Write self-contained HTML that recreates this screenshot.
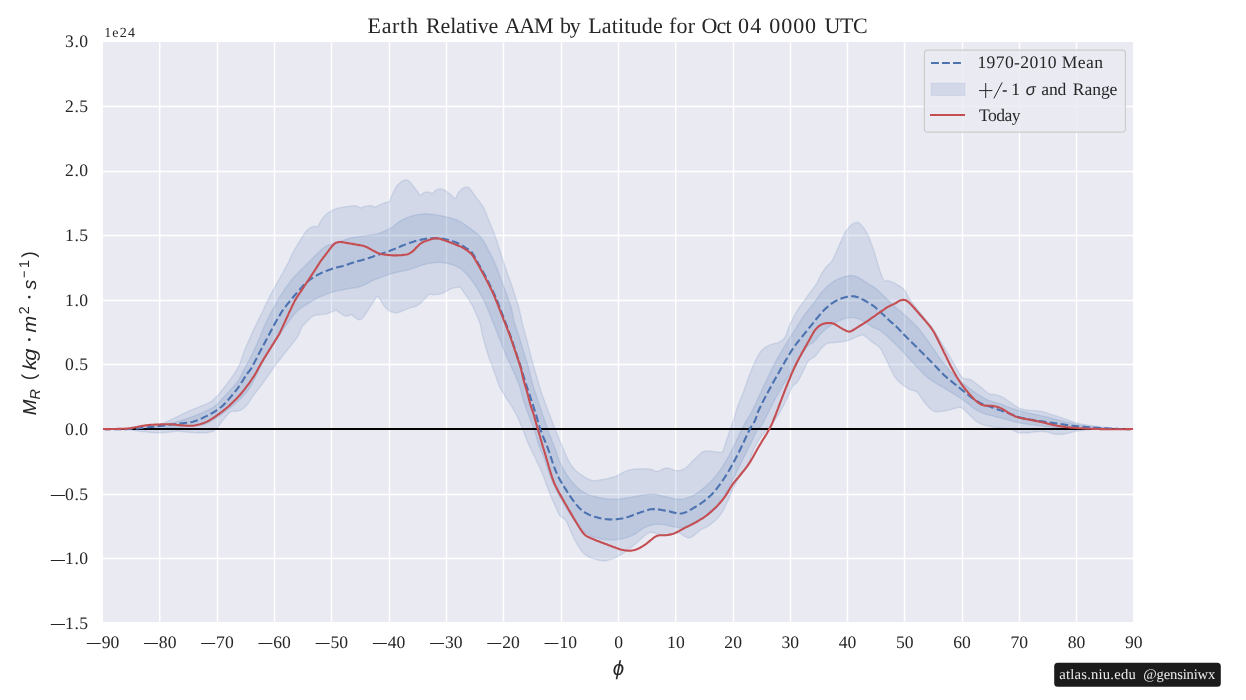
<!DOCTYPE html>
<html><head><meta charset="utf-8"><title>Earth Relative AAM by Latitude</title>
<style>
html,body{margin:0;padding:0;background:#fff;}
body{width:1246px;height:700px;overflow:hidden;}
svg{display:block;will-change:transform;text-rendering:geometricPrecision;}
text{font-family:"Liberation Serif",serif;fill:#262626;}
.t{font-size:17.6px;}
.sans{font-family:"Liberation Sans",sans-serif;font-style:italic;}
</style></head><body>
<svg width="1246" height="700" viewBox="0 0 1246 700">
<rect x="0" y="0" width="1246" height="700" fill="#ffffff"/>
<rect x="103.0" y="42.0" width="1030.0" height="580.0" fill="#eaeaf2"/>
<path d="M159.70,42.0 V622.0 M217.50,42.0 V622.0 M274.50,42.0 V622.0 M331.50,42.0 V622.0 M389.50,42.0 V622.0 M446.50,42.0 V622.0 M503.50,42.0 V622.0 M561.50,42.0 V622.0 M618.50,42.0 V622.0 M675.70,42.0 V622.0 M733.50,42.0 V622.0 M790.50,42.0 V622.0 M847.50,42.0 V622.0 M904.50,42.0 V622.0 M962.50,42.0 V622.0 M1019.50,42.0 V622.0 M1076.50,42.0 V622.0 M103.0,106.50 H1133.0 M103.0,171.50 H1133.0 M103.0,235.50 H1133.0 M103.0,300.50 H1133.0 M103.0,364.50 H1133.0 M103.0,429.00 H1133.0 M103.0,494.50 H1133.0 M103.0,558.50 H1133.0" stroke="#ffffff" stroke-width="1.4" fill="none"/>
<clipPath id="c"><rect x="103" y="42" width="1030" height="580"/></clipPath>
<g clip-path="url(#c)">
<path d="M102.8,429.0 L103.9,429.0 L105.1,429.1 L106.2,429.1 L107.3,429.1 L108.5,429.2 L109.6,429.2 L110.7,429.2 L111.9,429.2 L113.0,429.2 L114.1,429.2 L115.3,429.2 L116.4,429.2 L117.5,429.2 L118.7,429.2 L119.8,429.2 L120.9,429.2 L122.1,429.1 L123.2,429.1 L124.3,429.1 L125.5,429.1 L126.6,429.0 L127.7,429.0 L128.9,429.0 L130.0,428.9 L131.2,428.9 L132.3,428.8 L133.4,428.8 L134.6,428.7 L135.7,428.6 L136.8,428.5 L138.0,428.4 L139.1,428.3 L140.2,428.2 L141.4,428.1 L142.5,428.0 L143.6,427.9 L144.8,427.8 L145.9,427.7 L147.0,427.6 L148.2,427.5 L149.3,427.4 L150.4,427.3 L151.6,427.2 L152.7,427.1 L153.8,427.0 L155.0,426.8 L156.1,426.6 L157.2,426.3 L158.4,425.9 L159.5,425.4 L160.7,424.9 L161.8,424.3 L163.0,423.7 L164.1,423.2 L165.3,422.6 L166.5,422.0 L167.6,421.4 L168.8,420.8 L169.9,420.3 L171.1,419.7 L172.3,419.1 L173.4,418.5 L174.6,418.0 L175.7,417.4 L176.9,416.8 L178.1,416.2 L179.2,415.7 L180.4,415.1 L181.5,414.5 L182.7,413.9 L183.9,413.4 L185.0,412.8 L186.2,412.3 L187.3,411.7 L188.5,411.2 L189.7,410.7 L190.8,410.2 L192.0,409.7 L193.1,409.2 L194.3,408.8 L195.5,408.3 L196.6,407.8 L197.8,407.3 L198.9,406.9 L200.1,406.4 L201.3,406.0 L202.4,405.5 L203.6,405.1 L204.7,404.6 L205.9,404.2 L207.1,403.7 L208.2,403.2 L209.4,402.6 L210.5,401.8 L211.7,401.0 L212.9,400.1 L214.0,399.1 L215.2,398.0 L216.3,396.8 L217.5,395.6 L218.6,394.3 L219.8,392.9 L220.9,391.5 L222.1,390.1 L223.2,388.7 L224.3,387.2 L225.5,385.8 L226.6,384.3 L227.8,382.8 L228.9,381.2 L230.0,379.7 L231.2,378.1 L232.3,376.5 L233.5,374.9 L234.6,373.3 L235.7,371.5 L236.9,369.6 L238.0,367.5 L239.2,365.2 L240.3,362.6 L241.4,359.5 L242.6,356.0 L243.7,352.6 L244.9,349.4 L246.0,346.7 L247.1,344.2 L248.3,341.6 L249.4,339.1 L250.6,336.6 L251.7,334.1 L252.8,331.6 L254.0,329.1 L255.1,326.6 L256.3,324.2 L257.4,321.8 L258.5,319.6 L259.7,317.3 L260.8,315.1 L262.0,312.7 L263.1,310.3 L264.2,307.8 L265.4,305.3 L266.5,302.9 L267.7,300.6 L268.8,298.3 L269.9,296.0 L271.1,293.8 L272.2,291.7 L273.4,289.6 L274.5,287.5 L275.6,285.4 L276.8,283.4 L277.9,281.4 L279.1,279.4 L280.2,277.4 L281.3,275.4 L282.5,273.3 L283.6,271.2 L284.8,269.1 L285.9,266.9 L287.0,264.7 L288.2,262.5 L289.3,260.2 L290.5,257.7 L291.6,255.3 L292.7,252.9 L293.9,250.7 L295.0,248.7 L296.2,246.9 L297.3,245.2 L298.4,243.4 L299.6,241.6 L300.7,239.6 L301.9,237.6 L303.0,235.7 L304.1,233.9 L305.3,232.4 L306.4,231.1 L307.6,230.0 L308.7,229.0 L309.8,228.1 L311.0,227.4 L312.1,226.9 L313.3,226.5 L314.4,226.4 L315.5,226.3 L316.7,227.3 L317.8,226.5 L319.0,224.4 L320.1,222.3 L321.2,220.6 L322.4,218.9 L323.5,217.3 L324.7,215.9 L325.8,214.7 L326.9,213.7 L328.1,212.8 L329.2,212.0 L330.4,211.3 L331.5,210.7 L332.7,210.1 L333.8,209.6 L335.0,209.1 L336.1,208.7 L337.3,208.3 L338.5,208.1 L339.6,207.8 L340.8,207.6 L341.9,207.4 L343.1,207.2 L344.3,207.0 L345.4,206.8 L346.6,206.6 L347.7,206.4 L348.9,206.3 L350.1,206.1 L351.2,205.9 L352.4,205.7 L353.5,205.6 L354.7,205.6 L355.9,205.8 L357.0,206.2 L358.2,206.5 L359.3,207.3 L360.5,207.8 L361.7,207.7 L362.8,207.2 L364.0,206.7 L365.1,206.3 L366.3,206.1 L367.5,205.9 L368.6,205.7 L369.8,205.6 L370.9,205.6 L372.1,206.0 L373.3,206.6 L374.4,206.9 L375.6,206.8 L376.7,206.3 L377.9,205.8 L379.1,205.2 L380.2,204.7 L381.4,204.2 L382.5,203.7 L383.7,203.2 L384.9,202.7 L386.0,202.4 L387.2,202.1 L388.3,202.2 L389.5,201.0 L390.6,198.4 L391.8,195.8 L392.9,193.2 L394.1,190.7 L395.2,188.5 L396.3,186.7 L397.5,185.2 L398.6,184.0 L399.8,182.9 L400.9,182.0 L402.0,181.2 L403.2,180.6 L404.3,180.1 L405.5,179.9 L406.6,179.9 L407.7,180.3 L408.9,180.9 L410.0,182.0 L411.2,183.4 L412.3,184.8 L413.4,186.3 L414.6,187.8 L415.7,189.3 L416.9,190.9 L418.0,192.5 L419.1,194.0 L420.3,195.4 L421.4,195.1 L422.6,193.5 L423.7,192.8 L424.8,192.4 L426.0,192.1 L427.1,192.0 L428.3,192.2 L429.4,192.4 L430.5,192.7 L431.7,193.4 L432.8,193.3 L434.0,192.0 L435.1,190.6 L436.2,189.9 L437.4,189.4 L438.5,189.1 L439.7,189.0 L440.8,189.0 L441.9,189.1 L443.1,189.4 L444.2,189.8 L445.4,190.5 L446.5,191.3 L447.6,192.2 L448.8,193.1 L449.9,194.0 L451.1,195.1 L452.2,196.2 L453.3,197.3 L454.5,198.2 L455.6,198.3 L456.8,195.9 L457.9,193.3 L459.0,191.8 L460.2,190.4 L461.3,189.2 L462.5,188.3 L463.6,187.7 L464.7,187.4 L465.9,187.2 L467.0,187.2 L468.2,187.4 L469.3,188.0 L470.4,189.5 L471.6,191.0 L472.7,192.6 L473.9,194.1 L475.0,195.7 L476.1,197.2 L477.3,198.8 L478.4,200.3 L479.6,201.8 L480.7,203.4 L481.8,204.9 L483.0,206.6 L484.1,208.7 L485.3,211.2 L486.4,214.0 L487.5,216.9 L488.7,219.8 L489.8,222.7 L491.0,225.5 L492.1,228.3 L493.2,231.1 L494.4,234.0 L495.5,237.1 L496.7,240.5 L497.8,244.0 L498.9,247.7 L500.1,251.3 L501.2,254.9 L502.4,258.4 L503.5,261.8 L504.7,265.3 L505.8,268.7 L507.0,272.2 L508.1,275.4 L509.3,278.5 L510.5,281.7 L511.6,285.0 L512.8,288.5 L513.9,292.2 L515.1,295.9 L516.3,299.5 L517.4,303.2 L518.6,307.0 L519.7,310.9 L520.9,316.9 L522.1,322.6 L523.2,326.8 L524.4,330.8 L525.5,334.9 L526.7,339.3 L527.9,344.0 L529.0,348.7 L530.2,353.4 L531.3,357.9 L532.5,362.1 L533.7,366.1 L534.8,370.2 L536.0,374.3 L537.1,378.3 L538.3,382.2 L539.5,386.1 L540.6,389.9 L541.8,393.4 L542.9,396.8 L544.1,400.0 L545.3,403.2 L546.4,406.3 L547.6,409.4 L548.7,412.5 L549.9,415.6 L551.1,418.6 L552.2,421.6 L553.4,424.6 L554.5,427.5 L555.7,430.5 L556.9,433.4 L558.0,436.2 L559.2,439.0 L560.3,441.8 L561.5,444.5 L562.6,447.3 L563.8,450.0 L564.9,452.7 L566.1,455.3 L567.2,457.8 L568.3,460.1 L569.5,462.3 L570.6,464.2 L571.8,466.0 L572.9,467.5 L574.0,468.8 L575.2,470.0 L576.3,471.0 L577.5,472.0 L578.6,472.8 L579.7,473.7 L580.9,474.5 L582.0,475.3 L583.2,476.1 L584.3,476.8 L585.4,477.6 L586.6,478.2 L587.7,478.8 L588.9,479.3 L590.0,479.8 L591.1,480.1 L592.3,480.4 L593.4,480.6 L594.6,480.7 L595.7,480.7 L596.8,480.5 L598.0,480.4 L599.1,480.2 L600.3,480.0 L601.4,479.8 L602.5,479.6 L603.7,479.4 L604.8,479.2 L606.0,478.9 L607.1,478.7 L608.2,478.4 L609.4,478.1 L610.5,477.8 L611.7,477.5 L612.8,477.2 L613.9,476.9 L615.1,476.5 L616.2,476.1 L617.4,475.5 L618.5,474.9 L619.6,474.3 L620.8,473.6 L621.9,472.9 L623.1,472.3 L624.2,471.8 L625.3,471.4 L626.5,470.9 L627.6,470.6 L628.8,470.2 L629.9,469.9 L631.0,469.6 L632.2,469.4 L633.3,469.2 L634.5,469.1 L635.6,469.0 L636.7,468.9 L637.9,468.9 L639.0,468.9 L640.2,468.8 L641.3,468.8 L642.4,468.8 L643.6,468.8 L644.7,468.8 L645.9,468.8 L647.0,468.9 L648.1,468.9 L649.3,469.0 L650.4,469.1 L651.6,469.4 L652.7,469.9 L653.8,470.5 L655.0,471.0 L656.1,471.3 L657.3,471.3 L658.4,471.1 L659.5,470.7 L660.7,470.1 L661.8,469.6 L663.0,469.0 L664.1,468.5 L665.2,468.2 L666.4,468.0 L667.5,468.1 L668.7,468.3 L669.8,468.6 L670.9,468.9 L672.1,469.3 L673.2,469.7 L674.4,470.1 L675.5,470.4 L676.7,470.6 L677.8,470.7 L679.0,470.6 L680.1,470.4 L681.3,470.1 L682.5,469.7 L683.6,469.2 L684.8,468.5 L685.9,467.7 L687.1,466.8 L688.3,465.7 L689.4,464.5 L690.6,463.2 L691.7,462.0 L692.9,460.7 L694.1,459.6 L695.2,458.5 L696.4,457.4 L697.5,456.3 L698.7,455.2 L699.9,454.1 L701.0,453.1 L702.2,452.3 L703.3,451.6 L704.5,451.1 L705.7,450.9 L706.8,450.9 L708.0,451.0 L709.1,451.1 L710.3,451.2 L711.5,451.4 L712.6,451.5 L713.8,451.6 L714.9,451.7 L716.1,451.9 L717.3,452.0 L718.4,452.1 L719.6,452.3 L720.7,452.4 L721.9,452.4 L723.1,450.8 L724.2,447.5 L725.4,443.8 L726.5,440.3 L727.7,436.9 L728.9,433.4 L730.0,429.9 L731.2,426.6 L732.3,423.5 L733.5,420.3 L734.6,416.8 L735.8,412.4 L736.9,408.5 L738.1,405.4 L739.2,402.5 L740.3,399.6 L741.5,396.8 L742.6,394.0 L743.8,390.9 L744.9,387.8 L746.0,384.5 L747.2,381.3 L748.3,378.0 L749.5,374.8 L750.6,371.8 L751.7,368.9 L752.9,366.2 L754.0,363.7 L755.2,361.3 L756.3,359.0 L757.4,356.8 L758.6,354.7 L759.7,352.9 L760.9,351.3 L762.0,349.9 L763.1,348.9 L764.3,348.0 L765.4,347.3 L766.6,346.6 L767.7,346.0 L768.8,345.4 L770.0,344.9 L771.1,344.4 L772.3,344.1 L773.4,343.7 L774.5,343.4 L775.7,343.2 L776.8,342.9 L778.0,342.5 L779.1,342.1 L780.2,341.6 L781.4,340.9 L782.5,340.1 L783.7,339.0 L784.8,337.5 L785.9,335.6 L787.1,332.5 L788.2,328.8 L789.4,325.5 L790.5,323.1 L791.6,320.9 L792.8,318.7 L793.9,316.5 L795.1,314.4 L796.2,312.4 L797.3,310.5 L798.5,308.7 L799.6,307.0 L800.8,305.4 L801.9,303.8 L803.0,302.3 L804.2,300.7 L805.3,299.1 L806.5,297.5 L807.6,295.9 L808.7,294.3 L809.9,292.7 L811.0,291.2 L812.2,289.7 L813.3,288.1 L814.4,286.6 L815.6,285.0 L816.7,283.4 L817.9,281.3 L819.0,278.9 L820.1,276.4 L821.3,274.2 L822.4,272.3 L823.6,270.6 L824.7,269.0 L825.8,267.5 L827.0,266.2 L828.1,265.1 L829.3,264.1 L830.4,262.9 L831.5,261.5 L832.7,259.8 L833.8,257.6 L835.0,255.0 L836.1,252.4 L837.2,249.8 L838.4,247.2 L839.5,244.6 L840.7,242.0 L841.8,239.5 L842.9,237.0 L844.1,234.6 L845.2,232.4 L846.4,230.6 L847.5,229.1 L848.6,227.7 L849.8,226.4 L850.9,225.3 L852.1,224.3 L853.2,223.5 L854.3,222.9 L855.5,222.6 L856.6,222.4 L857.8,222.5 L858.9,222.9 L860.0,223.6 L861.2,224.7 L862.3,226.2 L863.5,227.7 L864.6,229.4 L865.7,231.2 L866.9,233.1 L868.0,235.3 L869.2,237.9 L870.3,240.7 L871.4,243.9 L872.6,247.1 L873.7,250.5 L874.9,254.0 L876.0,257.6 L877.1,261.5 L878.3,265.5 L879.4,269.3 L880.6,272.7 L881.7,275.7 L882.8,278.4 L884.0,280.5 L885.1,281.3 L886.3,281.0 L887.4,280.5 L888.5,280.7 L889.7,281.1 L890.8,281.5 L892.0,281.9 L893.1,282.4 L894.2,282.9 L895.4,283.6 L896.5,284.2 L897.7,284.9 L898.8,285.6 L899.9,286.3 L901.1,287.1 L902.2,287.9 L903.4,288.9 L904.5,290.1 L905.7,291.6 L906.8,294.0 L908.0,296.1 L909.1,298.1 L910.3,299.9 L911.5,301.7 L912.6,303.2 L913.8,304.7 L914.9,306.1 L916.1,307.6 L917.3,309.0 L918.4,310.4 L919.6,311.8 L920.7,313.2 L921.9,314.6 L923.1,316.1 L924.2,317.6 L925.4,319.0 L926.5,320.4 L927.7,321.9 L928.9,323.3 L930.0,324.8 L931.2,326.3 L932.3,327.8 L933.5,329.4 L934.7,331.2 L935.8,333.0 L937.0,334.9 L938.1,336.8 L939.3,338.8 L940.5,340.9 L941.6,342.9 L942.8,344.9 L943.9,346.8 L945.1,348.8 L946.3,350.7 L947.4,352.7 L948.6,354.6 L949.7,356.5 L950.9,358.4 L952.1,360.4 L953.2,362.3 L954.4,364.3 L955.5,366.4 L956.7,368.5 L957.9,370.6 L959.0,372.6 L960.2,374.6 L961.3,376.3 L962.5,377.5 L963.6,378.3 L964.8,378.7 L965.9,378.9 L967.1,379.0 L968.2,379.1 L969.3,379.2 L970.5,379.6 L971.6,380.2 L972.8,381.1 L973.9,381.9 L975.0,382.8 L976.2,383.6 L977.3,384.5 L978.5,385.4 L979.6,386.2 L980.7,387.1 L981.9,388.1 L983.0,389.0 L984.2,390.0 L985.3,391.0 L986.4,391.9 L987.6,392.7 L988.7,393.5 L989.9,394.0 L991.0,394.2 L992.1,394.3 L993.3,394.3 L994.4,394.4 L995.6,394.6 L996.7,394.9 L997.8,395.3 L999.0,395.7 L1000.1,396.1 L1001.3,396.6 L1002.4,397.1 L1003.5,397.7 L1004.7,398.4 L1005.8,399.2 L1007.0,399.9 L1008.1,400.8 L1009.2,401.6 L1010.4,402.4 L1011.5,403.2 L1012.7,404.0 L1013.8,404.7 L1014.9,405.5 L1016.1,406.2 L1017.2,406.9 L1018.4,407.5 L1019.5,408.1 L1020.6,408.6 L1021.8,408.9 L1022.9,409.2 L1024.1,409.5 L1025.2,409.7 L1026.3,409.9 L1027.5,410.0 L1028.6,410.1 L1029.8,410.3 L1030.9,410.4 L1032.0,410.5 L1033.2,410.5 L1034.3,410.6 L1035.5,410.6 L1036.6,410.7 L1037.7,410.7 L1038.9,410.9 L1040.0,411.1 L1041.2,411.3 L1042.3,411.6 L1043.4,412.0 L1044.6,412.3 L1045.7,412.7 L1046.9,413.0 L1048.0,413.4 L1049.1,413.7 L1050.3,414.1 L1051.4,414.4 L1052.6,414.8 L1053.7,415.2 L1054.8,415.5 L1056.0,415.9 L1057.1,416.3 L1058.3,416.6 L1059.4,417.0 L1060.5,417.4 L1061.7,417.7 L1062.8,418.1 L1064.0,418.5 L1065.1,418.9 L1066.2,419.2 L1067.4,419.7 L1068.5,420.1 L1069.7,420.5 L1070.8,421.0 L1071.9,421.4 L1073.1,421.8 L1074.2,422.2 L1075.4,422.6 L1076.5,422.9 L1077.6,423.2 L1078.8,423.5 L1079.9,423.8 L1081.1,424.0 L1082.2,424.2 L1083.4,424.4 L1084.5,424.6 L1085.6,424.7 L1086.8,424.9 L1087.9,425.1 L1089.1,425.3 L1090.2,425.4 L1091.3,425.6 L1092.5,425.8 L1093.6,426.0 L1094.8,426.1 L1095.9,426.3 L1097.1,426.5 L1098.2,426.6 L1099.3,426.8 L1100.5,426.9 L1101.6,427.1 L1102.8,427.2 L1103.9,427.4 L1105.0,427.5 L1106.2,427.6 L1107.3,427.8 L1108.5,427.9 L1109.6,428.0 L1110.8,428.1 L1111.9,428.2 L1113.0,428.3 L1114.2,428.3 L1115.3,428.4 L1116.5,428.5 L1117.6,428.5 L1118.8,428.6 L1119.9,428.7 L1121.0,428.7 L1122.2,428.8 L1123.3,428.8 L1124.5,428.8 L1125.6,428.9 L1126.7,428.9 L1127.9,428.9 L1129.0,429.0 L1130.2,429.0 L1131.3,429.0 L1132.5,429.0 L1133.6,429.0 L1133.6,429.0 L1132.5,429.0 L1131.3,428.9 L1130.2,428.9 L1129.0,428.9 L1127.9,428.9 L1126.7,428.8 L1125.6,428.8 L1124.5,428.8 L1123.3,428.8 L1122.2,428.8 L1121.0,428.8 L1119.9,428.8 L1118.8,428.8 L1117.6,428.8 L1116.5,428.8 L1115.3,428.8 L1114.2,428.8 L1113.0,428.8 L1111.9,428.8 L1110.8,428.8 L1109.6,428.8 L1108.5,428.8 L1107.3,428.9 L1106.2,428.9 L1105.0,428.9 L1103.9,428.9 L1102.8,428.9 L1101.6,429.0 L1100.5,429.0 L1099.3,429.0 L1098.2,429.1 L1097.1,429.1 L1095.9,429.2 L1094.8,429.3 L1093.6,429.3 L1092.5,429.4 L1091.3,429.5 L1090.2,429.6 L1089.1,429.7 L1087.9,429.8 L1086.8,429.9 L1085.6,430.0 L1084.5,430.2 L1083.4,430.3 L1082.2,430.5 L1081.1,430.6 L1079.9,430.8 L1078.8,430.9 L1077.6,431.1 L1076.5,431.3 L1075.4,431.5 L1074.2,431.7 L1073.1,432.0 L1071.9,432.2 L1070.8,432.5 L1069.7,432.8 L1068.5,433.1 L1067.4,433.4 L1066.2,433.6 L1065.1,433.8 L1064.0,434.0 L1062.8,434.2 L1061.7,434.3 L1060.5,434.3 L1059.4,434.4 L1058.3,434.4 L1057.1,434.3 L1056.0,434.3 L1054.8,434.2 L1053.7,434.0 L1052.6,433.6 L1051.4,433.3 L1050.3,432.9 L1049.1,432.5 L1048.0,432.2 L1046.9,431.9 L1045.7,431.8 L1044.6,431.7 L1043.4,431.6 L1042.3,431.6 L1041.2,431.6 L1040.0,431.6 L1038.9,431.6 L1037.7,431.7 L1036.6,431.7 L1035.5,431.8 L1034.3,432.0 L1033.2,432.1 L1032.0,432.3 L1030.9,432.4 L1029.8,432.6 L1028.6,432.7 L1027.5,432.9 L1026.3,433.0 L1025.2,433.1 L1024.1,433.1 L1022.9,433.1 L1021.8,433.1 L1020.6,433.0 L1019.5,432.9 L1018.4,432.7 L1017.2,432.3 L1016.1,431.8 L1014.9,431.3 L1013.8,430.7 L1012.7,430.2 L1011.5,429.7 L1010.4,429.3 L1009.2,429.0 L1008.1,428.8 L1007.0,428.7 L1005.8,428.5 L1004.7,428.4 L1003.5,428.3 L1002.4,428.1 L1001.3,428.0 L1000.1,427.9 L999.0,427.8 L997.8,427.6 L996.7,427.5 L995.6,427.3 L994.4,427.1 L993.3,426.9 L992.1,426.7 L991.0,426.5 L989.9,426.3 L988.7,426.1 L987.6,425.9 L986.4,425.7 L985.3,425.4 L984.2,425.2 L983.0,424.8 L981.9,424.4 L980.7,424.0 L979.6,423.4 L978.5,422.7 L977.3,422.0 L976.2,421.2 L975.0,420.2 L973.9,419.2 L972.8,418.1 L971.6,417.0 L970.5,415.9 L969.3,414.7 L968.2,413.6 L967.1,412.5 L965.9,411.4 L964.8,410.3 L963.6,409.3 L962.5,408.4 L961.3,407.7 L960.2,407.4 L959.0,407.4 L957.9,407.6 L956.7,407.9 L955.5,408.2 L954.4,408.5 L953.2,408.8 L952.1,409.2 L950.9,409.5 L949.7,409.8 L948.6,410.2 L947.4,410.4 L946.3,410.7 L945.1,410.9 L943.9,411.1 L942.8,411.3 L941.6,411.4 L940.5,411.5 L939.3,411.6 L938.1,411.7 L937.0,411.7 L935.8,411.7 L934.7,411.4 L933.5,411.0 L932.3,410.3 L931.2,409.5 L930.0,408.5 L928.9,407.3 L927.7,406.1 L926.5,404.8 L925.4,403.4 L924.2,402.0 L923.1,400.5 L921.9,398.8 L920.7,397.0 L919.6,395.2 L918.4,393.6 L917.3,392.4 L916.1,391.5 L914.9,390.9 L913.8,390.6 L912.6,390.3 L911.5,390.0 L910.3,389.7 L909.1,389.1 L908.0,388.4 L906.8,387.7 L905.7,387.0 L904.5,386.2 L903.4,385.3 L902.2,384.5 L901.1,383.5 L899.9,382.5 L898.8,381.5 L897.7,380.3 L896.5,379.0 L895.4,377.5 L894.2,375.8 L893.1,373.9 L892.0,371.7 L890.8,369.3 L889.7,366.9 L888.5,364.5 L887.4,362.1 L886.3,359.8 L885.1,357.5 L884.0,355.1 L882.8,352.9 L881.7,350.7 L880.6,348.9 L879.4,347.3 L878.3,346.2 L877.1,345.3 L876.0,344.5 L874.9,343.9 L873.7,343.2 L872.6,342.4 L871.4,341.5 L870.3,340.5 L869.2,339.5 L868.0,338.6 L866.9,337.6 L865.7,336.7 L864.6,335.8 L863.5,335.3 L862.3,335.1 L861.2,335.2 L860.0,335.5 L858.9,335.9 L857.8,336.4 L856.6,336.8 L855.5,337.3 L854.3,337.9 L853.2,338.4 L852.1,339.0 L850.9,339.5 L849.8,340.0 L848.6,340.4 L847.5,340.7 L846.4,340.9 L845.2,341.2 L844.1,341.3 L842.9,341.5 L841.8,341.7 L840.7,341.8 L839.5,342.0 L838.4,342.2 L837.2,342.3 L836.1,342.4 L835.0,342.5 L833.8,342.6 L832.7,342.7 L831.5,342.7 L830.4,342.8 L829.3,343.0 L828.1,343.2 L827.0,343.6 L825.8,344.3 L824.7,345.2 L823.6,346.2 L822.4,347.3 L821.3,348.5 L820.1,349.8 L819.0,351.4 L817.9,352.9 L816.7,354.4 L815.6,355.8 L814.4,356.9 L813.3,357.6 L812.2,358.2 L811.0,358.8 L809.9,359.5 L808.7,360.5 L807.6,362.1 L806.5,364.2 L805.3,366.7 L804.2,369.3 L803.0,371.7 L801.9,373.9 L800.8,376.1 L799.6,378.2 L798.5,380.2 L797.3,382.1 L796.2,383.5 L795.1,384.2 L793.9,384.8 L792.8,386.0 L791.6,388.1 L790.5,390.6 L789.4,393.2 L788.2,395.7 L787.1,398.1 L785.9,400.5 L784.8,402.8 L783.7,405.2 L782.5,407.4 L781.4,409.5 L780.2,411.6 L779.1,413.5 L778.0,415.4 L776.8,417.1 L775.7,418.8 L774.5,420.5 L773.4,422.0 L772.3,423.6 L771.1,425.0 L770.0,426.4 L768.8,427.8 L767.7,429.0 L766.6,430.2 L765.4,431.4 L764.3,432.7 L763.1,434.0 L762.0,435.3 L760.9,436.9 L759.7,438.6 L758.6,440.4 L757.4,442.3 L756.3,444.4 L755.2,446.5 L754.0,448.8 L752.9,451.7 L751.7,454.9 L750.6,458.3 L749.5,461.3 L748.3,463.7 L747.2,465.6 L746.0,467.2 L744.9,468.7 L743.8,470.2 L742.6,471.7 L741.5,473.5 L740.3,475.5 L739.2,477.5 L738.1,479.5 L736.9,481.5 L735.8,483.6 L734.6,485.8 L733.5,488.1 L732.3,490.5 L731.2,493.1 L730.0,495.8 L728.9,498.6 L727.7,501.2 L726.5,503.8 L725.4,506.2 L724.2,508.5 L723.1,510.6 L721.9,512.6 L720.7,514.4 L719.6,515.9 L718.4,517.3 L717.3,518.5 L716.1,519.7 L714.9,520.8 L713.8,521.8 L712.6,522.8 L711.5,523.7 L710.3,524.6 L709.1,525.4 L708.0,526.1 L706.8,526.8 L705.7,527.4 L704.5,528.0 L703.3,528.5 L702.2,529.1 L701.0,529.7 L699.9,530.5 L698.7,531.4 L697.5,532.4 L696.4,533.5 L695.2,534.5 L694.1,535.4 L692.9,536.2 L691.7,536.9 L690.6,537.4 L689.4,537.7 L688.3,537.7 L687.1,537.4 L685.9,536.9 L684.8,536.4 L683.6,535.8 L682.5,535.0 L681.3,534.1 L680.1,533.3 L679.0,532.6 L677.8,532.1 L676.7,532.1 L675.5,532.4 L674.4,533.0 L673.2,533.6 L672.1,534.3 L670.9,534.7 L669.8,534.9 L668.7,535.0 L667.5,534.9 L666.4,534.9 L665.2,534.9 L664.1,534.8 L663.0,534.7 L661.8,534.7 L660.7,534.6 L659.5,534.4 L658.4,534.2 L657.3,533.9 L656.1,533.5 L655.0,533.1 L653.8,532.8 L652.7,532.5 L651.6,532.4 L650.4,532.4 L649.3,532.6 L648.1,533.1 L647.0,533.8 L645.9,534.7 L644.7,535.6 L643.6,536.6 L642.4,537.6 L641.3,538.7 L640.2,539.7 L639.0,540.8 L637.9,541.8 L636.7,542.8 L635.6,543.7 L634.5,544.7 L633.3,545.6 L632.2,546.5 L631.0,547.4 L629.9,548.3 L628.8,549.2 L627.6,550.1 L626.5,550.9 L625.3,551.7 L624.2,552.5 L623.1,553.3 L621.9,554.0 L620.8,554.7 L619.6,555.4 L618.5,556.1 L617.4,556.7 L616.2,557.3 L615.1,557.9 L613.9,558.4 L612.8,558.8 L611.7,559.2 L610.5,559.6 L609.4,559.9 L608.2,560.1 L607.1,560.4 L606.0,560.6 L604.8,560.7 L603.7,560.7 L602.5,560.7 L601.4,560.6 L600.3,560.4 L599.1,560.2 L598.0,559.9 L596.8,559.7 L595.7,559.3 L594.6,559.0 L593.4,558.7 L592.3,558.3 L591.1,557.9 L590.0,557.5 L588.9,556.9 L587.7,556.3 L586.6,555.6 L585.4,554.8 L584.3,553.9 L583.2,552.9 L582.0,551.6 L580.9,550.2 L579.7,548.5 L578.6,546.7 L577.5,544.8 L576.3,542.7 L575.2,540.6 L574.0,538.5 L572.9,536.3 L571.8,533.7 L570.6,531.0 L569.5,528.3 L568.3,525.6 L567.2,523.1 L566.1,520.9 L564.9,519.3 L563.8,518.4 L562.6,517.8 L561.5,517.2 L560.3,516.2 L559.2,514.5 L558.0,512.2 L556.9,509.8 L555.7,507.3 L554.5,504.7 L553.4,502.1 L552.2,499.4 L551.1,496.6 L549.9,493.7 L548.7,490.7 L547.6,487.6 L546.4,484.4 L545.3,481.2 L544.1,478.1 L542.9,475.1 L541.8,472.4 L540.6,469.7 L539.5,467.2 L538.3,464.7 L537.1,462.2 L536.0,459.7 L534.8,457.3 L533.7,454.9 L532.5,452.6 L531.3,450.2 L530.2,447.8 L529.0,445.4 L527.9,442.7 L526.7,439.7 L525.5,436.6 L524.4,433.4 L523.2,430.4 L522.1,427.6 L520.9,424.9 L519.7,422.1 L518.6,419.4 L517.4,416.9 L516.3,414.5 L515.1,412.3 L513.9,410.3 L512.8,408.4 L511.6,406.5 L510.5,404.6 L509.3,402.8 L508.1,400.9 L507.0,399.1 L505.8,397.3 L504.7,395.4 L503.5,393.5 L502.4,391.7 L501.2,389.9 L500.1,387.9 L498.9,385.3 L497.8,382.3 L496.7,379.0 L495.5,375.6 L494.4,372.3 L493.2,369.0 L492.1,365.8 L491.0,362.7 L489.8,360.0 L488.7,356.9 L487.5,353.3 L486.4,349.5 L485.3,345.5 L484.1,341.3 L483.0,337.1 L481.8,332.0 L480.7,326.8 L479.6,322.2 L478.4,319.0 L477.3,316.8 L476.1,314.1 L475.0,311.4 L473.9,308.8 L472.7,306.4 L471.6,304.3 L470.4,302.3 L469.3,300.4 L468.2,298.7 L467.0,296.9 L465.9,295.3 L464.7,293.6 L463.6,291.9 L462.5,290.2 L461.3,288.6 L460.2,287.4 L459.0,287.0 L457.9,287.2 L456.8,287.5 L455.6,287.7 L454.5,287.9 L453.3,288.1 L452.2,288.3 L451.1,288.8 L449.9,289.4 L448.8,290.0 L447.6,290.7 L446.5,291.3 L445.4,291.8 L444.2,292.4 L443.1,292.9 L441.9,293.4 L440.8,293.7 L439.7,294.0 L438.5,294.2 L437.4,294.4 L436.2,294.5 L435.1,294.5 L434.0,294.7 L432.8,294.6 L431.7,294.4 L430.5,294.2 L429.4,294.4 L428.3,295.1 L427.1,296.2 L426.0,297.6 L424.8,298.9 L423.7,300.1 L422.6,301.2 L421.4,302.3 L420.3,303.4 L419.1,304.3 L418.0,305.1 L416.9,305.8 L415.7,306.3 L414.6,306.6 L413.4,307.0 L412.3,307.3 L411.2,307.6 L410.0,307.9 L408.9,308.3 L407.7,308.7 L406.6,309.1 L405.5,309.6 L404.3,310.1 L403.2,310.7 L402.0,311.2 L400.9,311.7 L399.8,312.1 L398.6,312.4 L397.5,312.5 L396.3,312.7 L395.2,312.7 L394.1,312.6 L392.9,312.3 L391.8,312.0 L390.6,311.6 L389.5,311.0 L388.3,310.3 L387.2,309.3 L386.0,308.2 L384.9,306.9 L383.7,305.3 L382.5,303.6 L381.4,301.7 L380.2,299.7 L379.1,297.8 L377.9,296.3 L376.7,296.5 L375.6,298.3 L374.4,300.2 L373.3,302.1 L372.1,303.9 L370.9,305.8 L369.8,307.6 L368.6,309.4 L367.5,311.2 L366.3,313.0 L365.1,314.7 L364.0,316.3 L362.8,317.9 L361.7,319.1 L360.5,319.6 L359.3,319.7 L358.2,319.4 L357.0,318.9 L355.9,318.3 L354.7,317.5 L353.5,316.3 L352.4,315.2 L351.2,314.7 L350.1,315.0 L348.9,315.7 L347.7,316.1 L346.6,316.1 L345.4,316.0 L344.3,315.7 L343.1,315.0 L341.9,314.3 L340.8,313.5 L339.6,312.7 L338.5,311.8 L337.3,311.0 L336.1,310.2 L335.0,310.6 L333.8,311.2 L332.7,311.7 L331.5,312.1 L330.4,312.6 L329.2,313.0 L328.1,313.4 L326.9,313.7 L325.8,314.0 L324.7,314.2 L323.5,314.3 L322.4,314.4 L321.2,314.5 L320.1,314.6 L319.0,314.7 L317.8,314.9 L316.7,315.1 L315.5,315.3 L314.4,315.7 L313.3,316.1 L312.1,316.7 L311.0,317.5 L309.8,318.6 L308.7,319.7 L307.6,320.9 L306.4,322.1 L305.3,323.2 L304.1,324.4 L303.0,325.5 L301.9,327.0 L300.7,330.0 L299.6,332.9 L298.4,335.2 L297.3,337.3 L296.2,338.9 L295.0,340.3 L293.9,341.8 L292.7,343.3 L291.6,344.7 L290.5,346.1 L289.3,347.5 L288.2,349.0 L287.0,350.4 L285.9,351.9 L284.8,353.3 L283.6,354.8 L282.5,356.2 L281.3,357.6 L280.2,359.0 L279.1,360.4 L277.9,361.8 L276.8,363.3 L275.6,364.9 L274.5,366.5 L273.4,368.2 L272.2,369.8 L271.1,371.4 L269.9,373.1 L268.8,374.7 L267.7,376.3 L266.5,377.9 L265.4,379.5 L264.2,381.1 L263.1,382.7 L262.0,384.3 L260.8,385.8 L259.7,387.3 L258.5,388.8 L257.4,390.2 L256.3,391.7 L255.1,393.2 L254.0,394.7 L252.8,396.4 L251.7,398.1 L250.6,399.8 L249.4,401.6 L248.3,403.2 L247.1,404.7 L246.0,406.0 L244.9,407.1 L243.7,408.1 L242.6,409.0 L241.4,409.7 L240.3,410.3 L239.2,410.7 L238.0,411.0 L236.9,411.3 L235.7,411.3 L234.6,411.3 L233.5,411.2 L232.3,411.3 L231.2,411.7 L230.0,412.4 L228.9,413.3 L227.8,414.5 L226.6,415.8 L225.5,417.2 L224.3,418.5 L223.2,419.9 L222.1,421.3 L220.9,422.8 L219.8,424.4 L218.6,425.9 L217.5,427.4 L216.3,428.7 L215.2,429.7 L214.0,430.6 L212.9,431.3 L211.7,431.8 L210.5,432.1 L209.4,432.3 L208.2,432.5 L207.1,432.7 L205.9,432.8 L204.7,432.9 L203.6,432.9 L202.4,432.9 L201.3,432.9 L200.1,432.9 L198.9,432.8 L197.8,432.8 L196.6,432.7 L195.5,432.7 L194.3,432.6 L193.1,432.6 L192.0,432.5 L190.8,432.5 L189.7,432.4 L188.5,432.3 L187.3,432.2 L186.2,432.1 L185.0,432.0 L183.9,431.8 L182.7,431.6 L181.5,431.5 L180.4,431.4 L179.2,431.3 L178.1,431.2 L176.9,431.2 L175.7,431.3 L174.6,431.5 L173.4,431.6 L172.3,431.8 L171.1,432.0 L169.9,432.1 L168.8,432.2 L167.6,432.3 L166.5,432.4 L165.3,432.5 L164.1,432.5 L163.0,432.6 L161.8,432.7 L160.7,432.7 L159.5,432.7 L158.4,432.8 L157.2,432.8 L156.1,432.8 L155.0,432.7 L153.8,432.7 L152.7,432.6 L151.6,432.5 L150.4,432.4 L149.3,432.3 L148.2,432.2 L147.0,432.1 L145.9,431.9 L144.8,431.8 L143.6,431.7 L142.5,431.6 L141.4,431.4 L140.2,431.3 L139.1,431.2 L138.0,431.0 L136.8,430.9 L135.7,430.7 L134.6,430.6 L133.4,430.4 L132.3,430.3 L131.2,430.1 L130.0,429.9 L128.9,429.8 L127.7,429.7 L126.6,429.5 L125.5,429.4 L124.3,429.3 L123.2,429.2 L122.1,429.1 L120.9,429.0 L119.8,428.9 L118.7,428.9 L117.5,428.9 L116.4,428.8 L115.3,428.8 L114.1,428.8 L113.0,428.8 L111.9,428.8 L110.7,428.8 L109.6,428.8 L108.5,428.8 L107.3,428.9 L106.2,428.9 L105.1,428.9 L103.9,429.0 L102.8,429.0Z" fill="#4c72b0" fill-opacity="0.15" stroke="#4c72b0" stroke-opacity="0.15" stroke-width="1.4" stroke-linejoin="round"/>
<path d="M102.8,429.0 L103.9,429.0 L105.1,429.1 L106.2,429.1 L107.3,429.2 L108.5,429.2 L109.6,429.2 L110.7,429.2 L111.9,429.3 L113.0,429.3 L114.1,429.3 L115.3,429.3 L116.4,429.3 L117.5,429.3 L118.7,429.3 L119.8,429.3 L120.9,429.3 L122.1,429.2 L123.2,429.2 L124.3,429.2 L125.5,429.2 L126.6,429.1 L127.7,429.1 L128.9,429.1 L130.0,429.0 L131.2,429.0 L132.3,428.9 L133.4,428.9 L134.6,428.8 L135.7,428.8 L136.8,428.7 L138.0,428.7 L139.1,428.6 L140.2,428.6 L141.4,428.5 L142.5,428.4 L143.6,428.3 L144.8,428.3 L145.9,428.2 L147.0,428.1 L148.2,428.0 L149.3,427.8 L150.4,427.7 L151.6,427.6 L152.7,427.4 L153.8,427.3 L155.0,427.1 L156.1,426.9 L157.2,426.7 L158.4,426.4 L159.5,426.2 L160.7,425.9 L161.8,425.7 L163.0,425.4 L164.1,425.1 L165.3,424.8 L166.5,424.5 L167.6,424.2 L168.8,423.9 L169.9,423.5 L171.1,423.2 L172.3,422.9 L173.4,422.6 L174.6,422.2 L175.7,421.9 L176.9,421.5 L178.1,421.2 L179.2,420.9 L180.4,420.5 L181.5,420.2 L182.7,419.8 L183.9,419.4 L185.0,419.1 L186.2,418.7 L187.3,418.3 L188.5,418.0 L189.7,417.6 L190.8,417.2 L192.0,416.7 L193.1,416.3 L194.3,415.8 L195.5,415.4 L196.6,414.9 L197.8,414.4 L198.9,413.9 L200.1,413.4 L201.3,412.9 L202.4,412.4 L203.6,411.9 L204.7,411.5 L205.9,411.0 L207.1,410.5 L208.2,410.0 L209.4,409.5 L210.5,408.9 L211.7,408.3 L212.9,407.5 L214.0,406.7 L215.2,405.8 L216.3,404.8 L217.5,403.7 L218.6,402.5 L219.8,401.3 L220.9,400.1 L222.1,398.9 L223.2,397.6 L224.3,396.4 L225.5,395.2 L226.6,393.9 L227.8,392.7 L228.9,391.5 L230.0,390.2 L231.2,389.0 L232.3,387.8 L233.5,386.5 L234.6,385.3 L235.7,384.0 L236.9,382.6 L238.0,381.0 L239.2,379.2 L240.3,377.0 L241.4,374.7 L242.6,372.3 L243.7,370.0 L244.9,367.7 L246.0,365.7 L247.1,363.8 L248.3,361.7 L249.4,359.5 L250.6,357.3 L251.7,355.0 L252.8,352.7 L254.0,350.3 L255.1,347.9 L256.3,345.4 L257.4,342.8 L258.5,340.1 L259.7,337.3 L260.8,334.5 L262.0,331.7 L263.1,329.0 L264.2,326.3 L265.4,323.9 L266.5,321.5 L267.7,319.1 L268.8,316.8 L269.9,314.6 L271.1,312.4 L272.2,310.2 L273.4,308.1 L274.5,306.0 L275.6,304.0 L276.8,302.0 L277.9,300.0 L279.1,298.1 L280.2,296.2 L281.3,294.4 L282.5,292.6 L283.6,290.9 L284.8,289.2 L285.9,287.6 L287.0,286.0 L288.2,284.4 L289.3,282.9 L290.5,281.3 L291.6,279.9 L292.7,278.5 L293.9,277.1 L295.0,275.9 L296.2,274.7 L297.3,273.6 L298.4,272.4 L299.6,271.3 L300.7,270.1 L301.9,269.0 L303.0,267.9 L304.1,266.7 L305.3,265.6 L306.4,264.5 L307.6,263.3 L308.7,262.2 L309.8,261.1 L311.0,259.9 L312.1,258.7 L313.3,257.6 L314.4,256.5 L315.5,255.3 L316.7,254.2 L317.8,253.1 L319.0,252.0 L320.1,250.9 L321.2,249.8 L322.4,248.8 L323.5,247.8 L324.7,247.0 L325.8,246.3 L326.9,245.7 L328.1,245.2 L329.2,244.7 L330.4,244.3 L331.5,243.9 L332.7,243.6 L333.8,243.2 L335.0,242.9 L336.1,242.5 L337.3,242.2 L338.5,241.8 L339.6,241.4 L340.8,241.1 L341.9,240.7 L343.1,240.4 L344.3,240.0 L345.4,239.6 L346.6,239.3 L347.7,238.9 L348.9,238.5 L350.1,238.2 L351.2,237.9 L352.4,237.6 L353.5,237.4 L354.7,237.2 L355.9,237.0 L357.0,236.9 L358.2,236.7 L359.3,236.5 L360.5,236.4 L361.7,236.2 L362.8,236.1 L364.0,235.9 L365.1,235.7 L366.3,235.6 L367.5,235.4 L368.6,235.2 L369.8,235.1 L370.9,234.9 L372.1,234.7 L373.3,234.6 L374.4,234.4 L375.6,234.1 L376.7,233.9 L377.9,233.6 L379.1,233.2 L380.2,232.8 L381.4,232.3 L382.5,231.8 L383.7,231.3 L384.9,230.8 L386.0,230.3 L387.2,229.7 L388.3,229.2 L389.5,228.7 L390.6,228.1 L391.8,227.5 L392.9,226.7 L394.1,225.8 L395.2,224.9 L396.3,223.9 L397.5,222.9 L398.6,222.1 L399.8,221.3 L400.9,220.6 L402.0,220.0 L403.2,219.4 L404.3,218.8 L405.5,218.2 L406.6,217.7 L407.7,217.3 L408.9,216.9 L410.0,216.5 L411.2,216.2 L412.3,215.8 L413.4,215.5 L414.6,215.3 L415.7,215.0 L416.9,214.8 L418.0,214.6 L419.1,214.4 L420.3,214.3 L421.4,214.1 L422.6,214.0 L423.7,213.9 L424.8,213.8 L426.0,213.8 L427.1,213.8 L428.3,213.9 L429.4,214.0 L430.5,214.1 L431.7,214.2 L432.8,214.3 L434.0,214.5 L435.1,214.7 L436.2,214.9 L437.4,215.1 L438.5,215.3 L439.7,215.5 L440.8,215.7 L441.9,215.9 L443.1,216.1 L444.2,216.4 L445.4,216.6 L446.5,216.9 L447.6,217.1 L448.8,217.4 L449.9,217.7 L451.1,218.0 L452.2,218.4 L453.3,218.7 L454.5,219.1 L455.6,219.5 L456.8,220.0 L457.9,220.5 L459.0,221.1 L460.2,221.7 L461.3,222.3 L462.5,223.0 L463.6,223.7 L464.7,224.5 L465.9,225.3 L467.0,226.1 L468.2,226.9 L469.3,227.7 L470.4,228.6 L471.6,229.4 L472.7,230.3 L473.9,231.1 L475.0,232.0 L476.1,232.9 L477.3,233.9 L478.4,234.9 L479.6,236.0 L480.7,237.3 L481.8,238.7 L483.0,240.3 L484.1,242.1 L485.3,244.0 L486.4,246.1 L487.5,248.2 L488.7,250.4 L489.8,252.6 L491.0,254.9 L492.1,257.1 L493.2,259.5 L494.4,262.0 L495.5,264.6 L496.7,267.5 L497.8,270.6 L498.9,273.7 L500.1,276.8 L501.2,280.0 L502.4,283.1 L503.5,286.1 L504.7,289.1 L505.8,292.1 L507.0,295.1 L508.1,298.2 L509.3,301.5 L510.5,305.1 L511.6,309.0 L512.8,314.4 L513.9,320.9 L515.1,324.6 L516.3,328.1 L517.4,331.5 L518.6,335.0 L519.7,338.7 L520.9,342.5 L522.1,346.4 L523.2,350.3 L524.4,354.1 L525.5,358.0 L526.7,361.5 L527.9,365.1 L529.0,369.4 L530.2,374.2 L531.3,379.2 L532.5,383.7 L533.7,387.6 L534.8,391.1 L536.0,394.6 L537.1,398.0 L538.3,401.5 L539.5,404.9 L540.6,408.4 L541.8,411.8 L542.9,415.3 L544.1,418.7 L545.3,422.1 L546.4,425.6 L547.6,429.0 L548.7,432.3 L549.9,435.4 L551.1,438.3 L552.2,441.2 L553.4,444.0 L554.5,447.1 L555.7,450.5 L556.9,454.4 L558.0,457.5 L559.2,460.4 L560.3,463.0 L561.5,465.5 L562.6,467.7 L563.8,469.8 L564.9,471.7 L566.1,473.6 L567.2,475.3 L568.3,477.0 L569.5,478.6 L570.6,480.1 L571.8,481.5 L572.9,482.8 L574.0,484.1 L575.2,485.3 L576.3,486.5 L577.5,487.6 L578.6,488.6 L579.7,489.6 L580.9,490.5 L582.0,491.2 L583.2,491.9 L584.3,492.6 L585.4,493.2 L586.6,493.7 L587.7,494.3 L588.9,494.8 L590.0,495.2 L591.1,495.6 L592.3,495.9 L593.4,496.2 L594.6,496.5 L595.7,496.8 L596.8,497.1 L598.0,497.3 L599.1,497.6 L600.3,497.8 L601.4,498.0 L602.5,498.2 L603.7,498.4 L604.8,498.5 L606.0,498.7 L607.1,498.9 L608.2,499.0 L609.4,499.1 L610.5,499.2 L611.7,499.3 L612.8,499.3 L613.9,499.3 L615.1,499.3 L616.2,499.2 L617.4,499.1 L618.5,499.0 L619.6,498.9 L620.8,498.8 L621.9,498.7 L623.1,498.5 L624.2,498.3 L625.3,498.2 L626.5,498.0 L627.6,497.8 L628.8,497.6 L629.9,497.4 L631.0,497.2 L632.2,497.0 L633.3,496.7 L634.5,496.5 L635.6,496.3 L636.7,496.1 L637.9,495.9 L639.0,495.7 L640.2,495.5 L641.3,495.3 L642.4,495.1 L643.6,494.9 L644.7,494.7 L645.9,494.6 L647.0,494.5 L648.1,494.3 L649.3,494.2 L650.4,494.2 L651.6,494.1 L652.7,494.2 L653.8,494.2 L655.0,494.4 L656.1,494.5 L657.3,494.7 L658.4,494.9 L659.5,495.1 L660.7,495.4 L661.8,495.7 L663.0,495.9 L664.1,496.2 L665.2,496.5 L666.4,496.8 L667.5,497.1 L668.7,497.4 L669.8,497.7 L670.9,498.0 L672.1,498.2 L673.2,498.4 L674.4,498.7 L675.5,498.9 L676.7,499.0 L677.8,499.2 L679.0,499.2 L680.1,499.3 L681.3,499.3 L682.5,499.2 L683.6,498.9 L684.8,498.6 L685.9,498.2 L687.1,497.8 L688.3,497.4 L689.4,497.0 L690.6,496.5 L691.7,496.1 L692.9,495.6 L694.1,495.0 L695.2,494.3 L696.4,493.6 L697.5,492.8 L698.7,491.9 L699.9,491.0 L701.0,490.1 L702.2,489.1 L703.3,488.2 L704.5,487.2 L705.7,486.2 L706.8,485.1 L708.0,484.0 L709.1,482.9 L710.3,481.8 L711.5,480.6 L712.6,479.4 L713.8,478.1 L714.9,476.8 L716.1,475.4 L717.3,474.0 L718.4,472.4 L719.6,470.8 L720.7,469.2 L721.9,467.4 L723.1,465.6 L724.2,463.7 L725.4,461.8 L726.5,459.8 L727.7,457.8 L728.9,455.7 L730.0,453.5 L731.2,451.3 L732.3,449.1 L733.5,446.8 L734.6,444.4 L735.8,442.0 L736.9,439.5 L738.1,437.0 L739.2,434.5 L740.3,432.1 L741.5,429.8 L742.6,427.6 L743.8,425.4 L744.9,423.3 L746.0,421.3 L747.2,419.2 L748.3,417.4 L749.5,415.7 L750.6,413.9 L751.7,411.7 L752.9,409.3 L754.0,406.9 L755.2,404.5 L756.3,402.0 L757.4,399.5 L758.6,397.1 L759.7,394.6 L760.9,392.2 L762.0,389.7 L763.1,387.3 L764.3,384.9 L765.4,382.5 L766.6,380.1 L767.7,377.7 L768.8,375.3 L770.0,372.9 L771.1,370.5 L772.3,368.2 L773.4,365.9 L774.5,363.7 L775.7,361.5 L776.8,359.4 L778.0,357.3 L779.1,355.3 L780.2,353.4 L781.4,351.5 L782.5,349.6 L783.7,347.7 L784.8,345.9 L785.9,344.0 L787.1,342.2 L788.2,340.4 L789.4,338.5 L790.5,336.7 L791.6,334.9 L792.8,333.1 L793.9,331.2 L795.1,329.4 L796.2,327.6 L797.3,325.8 L798.5,324.0 L799.6,322.2 L800.8,320.4 L801.9,318.7 L803.0,317.0 L804.2,315.3 L805.3,313.7 L806.5,312.1 L807.6,310.7 L808.7,309.3 L809.9,307.9 L811.0,306.5 L812.2,305.1 L813.3,303.7 L814.4,302.2 L815.6,300.6 L816.7,299.0 L817.9,297.4 L819.0,295.8 L820.1,294.3 L821.3,292.8 L822.4,291.4 L823.6,290.1 L824.7,288.9 L825.8,287.8 L827.0,286.7 L828.1,285.6 L829.3,284.7 L830.4,283.7 L831.5,282.8 L832.7,282.0 L833.8,281.3 L835.0,280.6 L836.1,280.0 L837.2,279.4 L838.4,278.9 L839.5,278.4 L840.7,278.0 L841.8,277.6 L842.9,277.2 L844.1,276.8 L845.2,276.5 L846.4,276.2 L847.5,275.9 L848.6,275.7 L849.8,275.6 L850.9,275.5 L852.1,275.5 L853.2,275.7 L854.3,275.9 L855.5,276.2 L856.6,276.6 L857.8,277.1 L858.9,277.7 L860.0,278.4 L861.2,279.1 L862.3,279.8 L863.5,280.6 L864.6,281.3 L865.7,282.1 L866.9,282.8 L868.0,283.5 L869.2,284.2 L870.3,284.8 L871.4,285.5 L872.6,286.1 L873.7,286.9 L874.9,287.7 L876.0,288.6 L877.1,289.6 L878.3,290.6 L879.4,291.7 L880.6,292.9 L881.7,294.0 L882.8,295.1 L884.0,296.2 L885.1,297.3 L886.3,298.4 L887.4,299.5 L888.5,300.6 L889.7,301.7 L890.8,302.7 L892.0,303.8 L893.1,304.8 L894.2,305.8 L895.4,306.9 L896.5,307.9 L897.7,308.9 L898.8,309.9 L899.9,310.9 L901.1,311.8 L902.2,312.8 L903.4,313.8 L904.5,314.8 L905.7,315.8 L906.8,316.9 L908.0,317.9 L909.1,319.0 L910.3,320.0 L911.5,321.1 L912.6,322.2 L913.8,323.4 L914.9,324.5 L916.1,325.7 L917.3,327.0 L918.4,328.3 L919.6,329.7 L920.7,331.1 L921.9,332.6 L923.1,334.1 L924.2,335.7 L925.4,337.3 L926.5,338.9 L927.7,340.5 L928.9,342.2 L930.0,343.8 L931.2,345.4 L932.3,347.1 L933.5,348.8 L934.7,350.4 L935.8,352.1 L937.0,353.9 L938.1,355.6 L939.3,357.3 L940.5,359.0 L941.6,360.6 L942.8,362.2 L943.9,363.7 L945.1,365.2 L946.3,366.6 L947.4,368.0 L948.6,369.3 L949.7,370.6 L950.9,371.9 L952.1,373.1 L953.2,374.3 L954.4,375.5 L955.5,376.6 L956.7,377.7 L957.9,378.8 L959.0,379.8 L960.2,380.9 L961.3,381.9 L962.5,382.8 L963.6,383.8 L964.8,384.7 L965.9,385.6 L967.1,386.5 L968.2,387.4 L969.3,388.3 L970.5,389.1 L971.6,390.0 L972.8,390.8 L973.9,391.6 L975.0,392.4 L976.2,393.2 L977.3,394.0 L978.5,394.7 L979.6,395.4 L980.7,396.2 L981.9,396.8 L983.0,397.5 L984.2,398.1 L985.3,398.7 L986.4,399.3 L987.6,399.8 L988.7,400.3 L989.9,400.7 L991.0,401.1 L992.1,401.5 L993.3,401.8 L994.4,402.1 L995.6,402.4 L996.7,402.7 L997.8,403.1 L999.0,403.4 L1000.1,403.7 L1001.3,404.1 L1002.4,404.5 L1003.5,404.9 L1004.7,405.4 L1005.8,405.9 L1007.0,406.4 L1008.1,406.8 L1009.2,407.3 L1010.4,407.8 L1011.5,408.2 L1012.7,408.5 L1013.8,408.9 L1014.9,409.3 L1016.1,409.6 L1017.2,410.0 L1018.4,410.3 L1019.5,410.6 L1020.6,410.9 L1021.8,411.3 L1022.9,411.6 L1024.1,411.9 L1025.2,412.2 L1026.3,412.4 L1027.5,412.7 L1028.6,413.0 L1029.8,413.3 L1030.9,413.5 L1032.0,413.8 L1033.2,414.0 L1034.3,414.3 L1035.5,414.5 L1036.6,414.7 L1037.7,415.0 L1038.9,415.2 L1040.0,415.4 L1041.2,415.7 L1042.3,415.9 L1043.4,416.2 L1044.6,416.5 L1045.7,416.8 L1046.9,417.1 L1048.0,417.3 L1049.1,417.6 L1050.3,417.9 L1051.4,418.2 L1052.6,418.5 L1053.7,418.8 L1054.8,419.1 L1056.0,419.3 L1057.1,419.6 L1058.3,419.9 L1059.4,420.2 L1060.5,420.5 L1061.7,420.8 L1062.8,421.1 L1064.0,421.3 L1065.1,421.6 L1066.2,421.9 L1067.4,422.2 L1068.5,422.5 L1069.7,422.8 L1070.8,423.1 L1071.9,423.3 L1073.1,423.6 L1074.2,423.9 L1075.4,424.2 L1076.5,424.5 L1077.6,424.8 L1078.8,425.0 L1079.9,425.2 L1081.1,425.4 L1082.2,425.6 L1083.4,425.8 L1084.5,426.0 L1085.6,426.1 L1086.8,426.3 L1087.9,426.4 L1089.1,426.6 L1090.2,426.7 L1091.3,426.8 L1092.5,426.9 L1093.6,427.1 L1094.8,427.2 L1095.9,427.3 L1097.1,427.4 L1098.2,427.5 L1099.3,427.6 L1100.5,427.7 L1101.6,427.8 L1102.8,427.9 L1103.9,428.0 L1105.0,428.1 L1106.2,428.2 L1107.3,428.3 L1108.5,428.4 L1109.6,428.4 L1110.8,428.5 L1111.9,428.5 L1113.0,428.6 L1114.2,428.6 L1115.3,428.7 L1116.5,428.7 L1117.6,428.8 L1118.8,428.8 L1119.9,428.9 L1121.0,428.9 L1122.2,428.9 L1123.3,428.9 L1124.5,429.0 L1125.6,429.0 L1126.7,429.0 L1127.9,429.0 L1129.0,429.0 L1130.2,429.0 L1131.3,429.0 L1132.5,429.0 L1133.6,429.0 L1133.6,429.0 L1132.5,429.0 L1131.3,429.0 L1130.2,429.0 L1129.0,429.1 L1127.9,429.1 L1126.7,429.1 L1125.6,429.1 L1124.5,429.1 L1123.3,429.1 L1122.2,429.1 L1121.0,429.1 L1119.9,429.1 L1118.8,429.1 L1117.6,429.1 L1116.5,429.1 L1115.3,429.1 L1114.2,429.1 L1113.0,429.1 L1111.9,429.1 L1110.8,429.1 L1109.6,429.1 L1108.5,429.1 L1107.3,429.1 L1106.2,429.1 L1105.0,429.1 L1103.9,429.1 L1102.8,429.1 L1101.6,429.1 L1100.5,429.1 L1099.3,429.1 L1098.2,429.1 L1097.1,429.1 L1095.9,429.1 L1094.8,429.1 L1093.6,429.1 L1092.5,429.0 L1091.3,429.0 L1090.2,429.0 L1089.1,429.0 L1087.9,429.0 L1086.8,429.0 L1085.6,429.0 L1084.5,429.0 L1083.4,428.9 L1082.2,428.9 L1081.1,428.9 L1079.9,428.9 L1078.8,428.8 L1077.6,428.8 L1076.5,428.8 L1075.4,428.7 L1074.2,428.7 L1073.1,428.7 L1071.9,428.6 L1070.8,428.6 L1069.7,428.5 L1068.5,428.5 L1067.4,428.4 L1066.2,428.4 L1065.1,428.3 L1064.0,428.3 L1062.8,428.2 L1061.7,428.2 L1060.5,428.1 L1059.4,428.0 L1058.3,427.9 L1057.1,427.8 L1056.0,427.7 L1054.8,427.6 L1053.7,427.5 L1052.6,427.4 L1051.4,427.3 L1050.3,427.1 L1049.1,427.0 L1048.0,426.8 L1046.9,426.7 L1045.7,426.5 L1044.6,426.4 L1043.4,426.2 L1042.3,426.1 L1041.2,425.9 L1040.0,425.8 L1038.9,425.6 L1037.7,425.5 L1036.6,425.3 L1035.5,425.2 L1034.3,425.0 L1033.2,424.9 L1032.0,424.8 L1030.9,424.6 L1029.8,424.5 L1028.6,424.3 L1027.5,424.2 L1026.3,424.1 L1025.2,423.9 L1024.1,423.7 L1022.9,423.6 L1021.8,423.4 L1020.6,423.2 L1019.5,422.9 L1018.4,422.7 L1017.2,422.4 L1016.1,422.2 L1014.9,421.9 L1013.8,421.6 L1012.7,421.3 L1011.5,420.9 L1010.4,420.6 L1009.2,420.3 L1008.1,420.0 L1007.0,419.6 L1005.8,419.3 L1004.7,419.0 L1003.5,418.7 L1002.4,418.4 L1001.3,418.1 L1000.1,417.8 L999.0,417.5 L997.8,417.3 L996.7,417.0 L995.6,416.7 L994.4,416.4 L993.3,416.1 L992.1,415.8 L991.0,415.5 L989.9,415.3 L988.7,415.0 L987.6,414.7 L986.4,414.3 L985.3,414.0 L984.2,413.6 L983.0,413.1 L981.9,412.7 L980.7,412.2 L979.6,411.6 L978.5,411.1 L977.3,410.5 L976.2,409.8 L975.0,409.1 L973.9,408.4 L972.8,407.6 L971.6,406.7 L970.5,405.7 L969.3,404.7 L968.2,403.8 L967.1,402.9 L965.9,402.1 L964.8,401.2 L963.6,400.4 L962.5,399.6 L961.3,398.8 L960.2,398.0 L959.0,397.2 L957.9,396.4 L956.7,395.7 L955.5,395.0 L954.4,394.3 L953.2,393.6 L952.1,392.9 L950.9,392.2 L949.7,391.5 L948.6,390.8 L947.4,390.1 L946.3,389.4 L945.1,388.7 L943.9,388.0 L942.8,387.3 L941.6,386.6 L940.5,385.9 L939.3,385.2 L938.1,384.5 L937.0,383.8 L935.8,383.1 L934.7,382.4 L933.5,381.7 L932.3,380.9 L931.2,380.2 L930.0,379.5 L928.9,378.7 L927.7,377.8 L926.5,376.8 L925.4,375.8 L924.2,374.7 L923.1,373.5 L921.9,372.3 L920.7,371.1 L919.6,369.9 L918.4,368.6 L917.3,367.4 L916.1,366.2 L914.9,364.9 L913.8,363.7 L912.6,362.4 L911.5,361.2 L910.3,359.9 L909.1,358.6 L908.0,357.3 L906.8,356.0 L905.7,354.7 L904.5,353.5 L903.4,352.3 L902.2,351.1 L901.1,349.9 L899.9,348.7 L898.8,347.6 L897.7,346.4 L896.5,345.3 L895.4,344.2 L894.2,343.1 L893.1,342.0 L892.0,340.9 L890.8,339.8 L889.7,338.7 L888.5,337.7 L887.4,336.6 L886.3,335.5 L885.1,334.5 L884.0,333.5 L882.8,332.6 L881.7,331.7 L880.6,330.9 L879.4,330.2 L878.3,329.6 L877.1,329.1 L876.0,328.6 L874.9,328.2 L873.7,327.7 L872.6,327.1 L871.4,326.4 L870.3,325.6 L869.2,324.8 L868.0,324.1 L866.9,323.3 L865.7,322.6 L864.6,321.9 L863.5,321.3 L862.3,320.7 L861.2,320.1 L860.0,319.6 L858.9,319.1 L857.8,318.7 L856.6,318.3 L855.5,317.9 L854.3,317.7 L853.2,317.6 L852.1,317.5 L850.9,317.6 L849.8,317.7 L848.6,317.8 L847.5,318.0 L846.4,318.3 L845.2,318.6 L844.1,318.9 L842.9,319.3 L841.8,319.7 L840.7,320.2 L839.5,320.6 L838.4,321.1 L837.2,321.7 L836.1,322.3 L835.0,322.9 L833.8,323.5 L832.7,324.2 L831.5,325.0 L830.4,325.7 L829.3,326.5 L828.1,327.4 L827.0,328.2 L825.8,329.2 L824.7,330.1 L823.6,331.2 L822.4,332.2 L821.3,333.3 L820.1,334.6 L819.0,335.9 L817.9,337.3 L816.7,338.7 L815.6,340.1 L814.4,341.4 L813.3,342.5 L812.2,343.2 L811.0,343.8 L809.9,344.3 L808.7,345.0 L807.6,346.2 L806.5,347.7 L805.3,349.2 L804.2,350.9 L803.0,352.5 L801.9,354.2 L800.8,356.0 L799.6,357.8 L798.5,359.6 L797.3,361.5 L796.2,363.3 L795.1,365.2 L793.9,367.1 L792.8,368.9 L791.6,370.8 L790.5,372.7 L789.4,374.6 L788.2,376.5 L787.1,378.4 L785.9,380.3 L784.8,382.2 L783.7,384.2 L782.5,386.1 L781.4,388.1 L780.2,390.0 L779.1,392.0 L778.0,394.0 L776.8,396.1 L775.7,398.2 L774.5,400.3 L773.4,402.5 L772.3,404.7 L771.1,406.9 L770.0,409.1 L768.8,411.3 L767.7,413.5 L766.6,415.9 L765.4,418.2 L764.3,420.6 L763.1,422.9 L762.0,425.1 L760.9,426.6 L759.7,427.4 L758.6,428.2 L757.4,429.8 L756.3,432.1 L755.2,434.4 L754.0,436.7 L752.9,439.1 L751.7,441.4 L750.6,443.7 L749.5,446.0 L748.3,448.3 L747.2,450.6 L746.0,452.9 L744.9,455.2 L743.8,457.5 L742.6,459.8 L741.5,462.1 L740.3,464.5 L739.2,466.8 L738.1,469.1 L736.9,471.4 L735.8,473.7 L734.6,476.1 L733.5,478.4 L732.3,480.7 L731.2,483.0 L730.0,485.2 L728.9,487.4 L727.7,489.6 L726.5,491.8 L725.4,493.9 L724.2,496.0 L723.1,498.1 L721.9,500.0 L720.7,501.9 L719.6,503.6 L718.4,505.2 L717.3,506.6 L716.1,507.9 L714.9,509.0 L713.8,509.9 L712.6,510.8 L711.5,511.7 L710.3,512.5 L709.1,513.3 L708.0,514.1 L706.8,514.9 L705.7,515.6 L704.5,516.4 L703.3,517.1 L702.2,517.8 L701.0,518.5 L699.9,519.1 L698.7,519.8 L697.5,520.5 L696.4,521.2 L695.2,521.8 L694.1,522.5 L692.9,523.2 L691.7,523.8 L690.6,524.5 L689.4,525.1 L688.3,525.7 L687.1,526.2 L685.9,526.7 L684.8,527.1 L683.6,527.4 L682.5,527.6 L681.3,527.7 L680.1,527.7 L679.0,527.6 L677.8,527.5 L676.7,527.3 L675.5,527.1 L674.4,527.0 L673.2,526.7 L672.1,526.5 L670.9,526.2 L669.8,526.0 L668.7,525.7 L667.5,525.4 L666.4,525.2 L665.2,524.9 L664.1,524.7 L663.0,524.6 L661.8,524.5 L660.7,524.4 L659.5,524.3 L658.4,524.3 L657.3,524.3 L656.1,524.3 L655.0,524.4 L653.8,524.6 L652.7,524.8 L651.6,525.0 L650.4,525.4 L649.3,525.7 L648.1,526.2 L647.0,526.6 L645.9,527.2 L644.7,527.7 L643.6,528.3 L642.4,528.9 L641.3,529.6 L640.2,530.4 L639.0,531.2 L637.9,532.0 L636.7,532.9 L635.6,533.7 L634.5,534.4 L633.3,535.0 L632.2,535.6 L631.0,536.1 L629.9,536.5 L628.8,536.9 L627.6,537.3 L626.5,537.7 L625.3,538.0 L624.2,538.2 L623.1,538.5 L621.9,538.7 L620.8,539.0 L619.6,539.2 L618.5,539.4 L617.4,539.5 L616.2,539.7 L615.1,539.8 L613.9,539.9 L612.8,540.0 L611.7,540.1 L610.5,540.1 L609.4,540.0 L608.2,540.0 L607.1,539.9 L606.0,539.8 L604.8,539.6 L603.7,539.4 L602.5,539.2 L601.4,539.0 L600.3,538.8 L599.1,538.5 L598.0,538.3 L596.8,538.0 L595.7,537.6 L594.6,537.3 L593.4,536.9 L592.3,536.4 L591.1,535.9 L590.0,535.4 L588.9,534.8 L587.7,534.2 L586.6,533.4 L585.4,532.6 L584.3,531.7 L583.2,530.7 L582.0,529.5 L580.9,528.3 L579.7,527.1 L578.6,525.7 L577.5,524.3 L576.3,522.9 L575.2,521.4 L574.0,519.9 L572.9,518.3 L571.8,516.6 L570.6,515.0 L569.5,513.3 L568.3,511.5 L567.2,509.7 L566.1,507.9 L564.9,506.0 L563.8,504.1 L562.6,502.1 L561.5,500.1 L560.3,498.0 L559.2,495.9 L558.0,493.7 L556.9,491.4 L555.7,489.1 L554.5,486.6 L553.4,484.0 L552.2,481.3 L551.1,478.6 L549.9,475.6 L548.7,472.4 L547.6,468.9 L546.4,465.3 L545.3,461.6 L544.1,458.1 L542.9,455.0 L541.8,452.3 L540.6,449.7 L539.5,446.9 L538.3,443.6 L537.1,439.7 L536.0,435.6 L534.8,431.6 L533.7,428.2 L532.5,425.3 L531.3,422.4 L530.2,419.4 L529.0,416.3 L527.9,413.2 L526.7,410.0 L525.5,406.7 L524.4,403.4 L523.2,400.1 L522.1,396.2 L520.9,390.8 L519.7,386.6 L518.6,383.6 L517.4,380.7 L516.3,377.9 L515.1,375.2 L513.9,372.5 L512.8,369.9 L511.6,367.4 L510.5,364.9 L509.3,362.5 L508.1,360.2 L507.0,357.5 L505.8,354.7 L504.7,351.8 L503.5,349.0 L502.4,346.1 L501.2,343.2 L500.1,340.3 L498.9,337.4 L497.8,334.5 L496.7,331.6 L495.5,328.7 L494.4,325.8 L493.2,322.9 L492.1,320.0 L491.0,317.1 L489.8,314.3 L488.7,311.5 L487.5,308.7 L486.4,306.1 L485.3,303.6 L484.1,301.1 L483.0,298.8 L481.8,296.5 L480.7,294.4 L479.6,292.4 L478.4,290.4 L477.3,288.6 L476.1,286.8 L475.0,285.1 L473.9,283.4 L472.7,281.8 L471.6,280.2 L470.4,278.7 L469.3,277.3 L468.2,275.9 L467.0,274.6 L465.9,273.4 L464.7,272.3 L463.6,271.2 L462.5,270.2 L461.3,269.3 L460.2,268.5 L459.0,267.8 L457.9,267.2 L456.8,266.6 L455.6,266.1 L454.5,265.6 L453.3,265.1 L452.2,264.7 L451.1,264.4 L449.9,264.0 L448.8,263.7 L447.6,263.4 L446.5,263.2 L445.4,263.0 L444.2,262.8 L443.1,262.7 L441.9,262.6 L440.8,262.5 L439.7,262.5 L438.5,262.5 L437.4,262.5 L436.2,262.5 L435.1,262.6 L434.0,262.7 L432.8,262.8 L431.7,263.0 L430.5,263.2 L429.4,263.4 L428.3,263.6 L427.1,263.9 L426.0,264.2 L424.8,264.5 L423.7,264.8 L422.6,265.1 L421.4,265.4 L420.3,265.8 L419.1,266.1 L418.0,266.5 L416.9,267.0 L415.7,267.4 L414.6,267.9 L413.4,268.3 L412.3,268.7 L411.2,269.1 L410.0,269.4 L408.9,269.7 L407.7,270.0 L406.6,270.2 L405.5,270.4 L404.3,270.7 L403.2,270.9 L402.0,271.2 L400.9,271.4 L399.8,271.7 L398.6,272.0 L397.5,272.2 L396.3,272.5 L395.2,272.8 L394.1,273.0 L392.9,273.3 L391.8,273.6 L390.6,274.0 L389.5,274.3 L388.3,274.7 L387.2,275.1 L386.0,275.5 L384.9,275.9 L383.7,276.3 L382.5,276.8 L381.4,277.2 L380.2,277.6 L379.1,278.1 L377.9,278.5 L376.7,278.9 L375.6,279.4 L374.4,279.9 L373.3,280.4 L372.1,280.9 L370.9,281.4 L369.8,282.1 L368.6,282.7 L367.5,283.3 L366.3,283.9 L365.1,284.5 L364.0,285.0 L362.8,285.6 L361.7,286.1 L360.5,286.5 L359.3,286.9 L358.2,287.2 L357.0,287.5 L355.9,287.6 L354.7,287.8 L353.5,288.0 L352.4,288.2 L351.2,288.3 L350.1,288.5 L348.9,288.7 L347.7,288.9 L346.6,289.1 L345.4,289.3 L344.3,289.5 L343.1,289.8 L341.9,290.0 L340.8,290.2 L339.6,290.4 L338.5,290.6 L337.3,290.9 L336.1,291.2 L335.0,291.5 L333.8,291.8 L332.7,292.1 L331.5,292.4 L330.4,292.8 L329.2,293.2 L328.1,293.6 L326.9,294.0 L325.8,294.4 L324.7,294.9 L323.5,295.4 L322.4,295.8 L321.2,296.3 L320.1,296.7 L319.0,297.2 L317.8,297.7 L316.7,298.3 L315.5,298.9 L314.4,299.6 L313.3,300.3 L312.1,301.0 L311.0,301.7 L309.8,302.4 L308.7,303.1 L307.6,303.9 L306.4,304.6 L305.3,305.3 L304.1,306.0 L303.0,306.8 L301.9,307.5 L300.7,308.2 L299.6,309.1 L298.4,310.1 L297.3,311.1 L296.2,312.3 L295.0,313.5 L293.9,314.8 L292.7,316.2 L291.6,317.7 L290.5,319.2 L289.3,320.8 L288.2,322.3 L287.0,323.9 L285.9,325.5 L284.8,327.2 L283.6,328.8 L282.5,330.5 L281.3,332.2 L280.2,333.9 L279.1,335.6 L277.9,337.3 L276.8,339.0 L275.6,340.7 L274.5,342.5 L273.4,344.2 L272.2,346.0 L271.1,347.7 L269.9,349.5 L268.8,351.3 L267.7,353.2 L266.5,355.1 L265.4,357.1 L264.2,359.2 L263.1,361.4 L262.0,363.7 L260.8,366.0 L259.7,368.4 L258.5,370.7 L257.4,373.1 L256.3,375.5 L255.1,377.9 L254.0,380.2 L252.8,382.5 L251.7,384.5 L250.6,386.5 L249.4,388.2 L248.3,389.9 L247.1,391.4 L246.0,392.9 L244.9,394.2 L243.7,395.5 L242.6,396.7 L241.4,397.9 L240.3,399.1 L239.2,400.2 L238.0,401.2 L236.9,402.2 L235.7,403.2 L234.6,404.1 L233.5,405.1 L232.3,406.0 L231.2,406.9 L230.0,407.8 L228.9,408.7 L227.8,409.6 L226.6,410.5 L225.5,411.4 L224.3,412.2 L223.2,413.1 L222.1,414.0 L220.9,414.8 L219.8,415.7 L218.6,416.5 L217.5,417.3 L216.3,418.0 L215.2,418.7 L214.0,419.4 L212.9,420.0 L211.7,420.6 L210.5,421.3 L209.4,422.0 L208.2,422.7 L207.1,423.3 L205.9,423.9 L204.7,424.4 L203.6,424.8 L202.4,425.0 L201.3,425.1 L200.1,425.2 L198.9,425.3 L197.8,425.5 L196.6,425.6 L195.5,425.7 L194.3,425.8 L193.1,425.9 L192.0,426.0 L190.8,426.1 L189.7,426.2 L188.5,426.4 L187.3,426.5 L186.2,426.6 L185.0,426.7 L183.9,426.8 L182.7,426.9 L181.5,427.0 L180.4,427.2 L179.2,427.3 L178.1,427.4 L176.9,427.5 L175.7,427.6 L174.6,427.7 L173.4,427.8 L172.3,427.9 L171.1,428.0 L169.9,428.1 L168.8,428.2 L167.6,428.3 L166.5,428.4 L165.3,428.4 L164.1,428.5 L163.0,428.6 L161.8,428.6 L160.7,428.7 L159.5,428.7 L158.4,428.7 L157.2,428.8 L156.1,428.8 L155.0,428.8 L153.8,428.9 L152.7,428.9 L151.6,428.9 L150.4,429.0 L149.3,429.0 L148.2,429.0 L147.0,429.0 L145.9,429.0 L144.8,429.1 L143.6,429.1 L142.5,429.1 L141.4,429.1 L140.2,429.1 L139.1,429.2 L138.0,429.2 L136.8,429.2 L135.7,429.2 L134.6,429.2 L133.4,429.2 L132.3,429.2 L131.2,429.2 L130.0,429.2 L128.9,429.3 L127.7,429.3 L126.6,429.3 L125.5,429.3 L124.3,429.3 L123.2,429.3 L122.1,429.3 L120.9,429.3 L119.8,429.2 L118.7,429.2 L117.5,429.2 L116.4,429.2 L115.3,429.2 L114.1,429.2 L113.0,429.2 L111.9,429.2 L110.7,429.2 L109.6,429.1 L108.5,429.1 L107.3,429.1 L106.2,429.1 L105.1,429.1 L103.9,429.0 L102.8,429.0Z" fill="#4c72b0" fill-opacity="0.15" stroke="#4c72b0" stroke-opacity="0.15" stroke-width="1.4" stroke-linejoin="round"/>
<path d="M103.0,429.0 H1133.0" stroke="#000" stroke-width="2.1" fill="none"/>
<path d="M102.8,429.0 L103.9,429.0 L105.1,429.1 L106.2,429.1 L107.3,429.1 L108.5,429.2 L109.6,429.2 L110.7,429.2 L111.9,429.2 L113.0,429.2 L114.1,429.2 L115.3,429.2 L116.4,429.2 L117.5,429.2 L118.7,429.2 L119.8,429.2 L120.9,429.2 L122.1,429.2 L123.2,429.2 L124.3,429.1 L125.5,429.1 L126.6,429.1 L127.7,429.0 L128.9,429.0 L130.0,428.9 L131.2,428.9 L132.3,428.8 L133.4,428.8 L134.6,428.7 L135.7,428.6 L136.8,428.5 L138.0,428.4 L139.1,428.3 L140.2,428.2 L141.4,428.0 L142.5,427.9 L143.6,427.7 L144.8,427.6 L145.9,427.5 L147.0,427.3 L148.2,427.2 L149.3,427.1 L150.4,427.0 L151.6,426.9 L152.7,426.7 L153.8,426.6 L155.0,426.5 L156.1,426.4 L157.2,426.3 L158.4,426.2 L159.5,426.0 L160.7,425.9 L161.8,425.8 L163.0,425.6 L164.1,425.5 L165.3,425.3 L166.5,425.2 L167.6,425.1 L168.8,424.9 L169.9,424.8 L171.1,424.6 L172.3,424.5 L173.4,424.4 L174.6,424.2 L175.7,424.1 L176.9,423.9 L178.1,423.8 L179.2,423.7 L180.4,423.5 L181.5,423.4 L182.7,423.3 L183.9,423.1 L185.0,423.0 L186.2,422.8 L187.3,422.7 L188.5,422.6 L189.7,422.4 L190.8,422.2 L192.0,422.0 L193.1,421.7 L194.3,421.3 L195.5,420.9 L196.6,420.5 L197.8,420.1 L198.9,419.6 L200.1,419.1 L201.3,418.6 L202.4,418.1 L203.6,417.5 L204.7,416.9 L205.9,416.4 L207.1,415.8 L208.2,415.2 L209.4,414.6 L210.5,414.0 L211.7,413.3 L212.9,412.7 L214.0,412.0 L215.2,411.3 L216.3,410.5 L217.5,409.8 L218.6,409.0 L219.8,408.1 L220.9,407.2 L222.1,406.2 L223.2,405.2 L224.3,404.0 L225.5,402.9 L226.6,401.6 L227.8,400.4 L228.9,399.1 L230.0,397.7 L231.2,396.4 L232.3,395.0 L233.5,393.6 L234.6,392.2 L235.7,390.8 L236.9,389.3 L238.0,387.8 L239.2,386.2 L240.3,384.5 L241.4,382.7 L242.6,380.9 L243.7,379.0 L244.9,377.1 L246.0,375.3 L247.1,373.7 L248.3,372.3 L249.4,370.8 L250.6,369.3 L251.7,367.6 L252.8,365.5 L254.0,363.3 L255.1,361.1 L256.3,358.9 L257.4,356.7 L258.5,354.5 L259.7,352.3 L260.8,350.1 L262.0,348.0 L263.1,345.8 L264.2,343.7 L265.4,341.5 L266.5,339.4 L267.7,337.2 L268.8,335.0 L269.9,332.9 L271.1,330.7 L272.2,328.6 L273.4,326.4 L274.5,324.3 L275.6,322.3 L276.8,320.3 L277.9,318.4 L279.1,316.4 L280.2,314.4 L281.3,312.5 L282.5,310.7 L283.6,309.0 L284.8,307.5 L285.9,306.1 L287.0,304.7 L288.2,303.2 L289.3,301.9 L290.5,300.5 L291.6,299.1 L292.7,297.7 L293.9,296.3 L295.0,295.0 L296.2,293.6 L297.3,292.3 L298.4,291.0 L299.6,289.7 L300.7,288.4 L301.9,287.1 L303.0,285.8 L304.1,284.7 L305.3,283.5 L306.4,282.5 L307.6,281.5 L308.7,280.6 L309.8,279.7 L311.0,278.9 L312.1,278.1 L313.3,277.4 L314.4,276.7 L315.5,276.0 L316.7,275.4 L317.8,274.7 L319.0,274.1 L320.1,273.6 L321.2,273.0 L322.4,272.5 L323.5,272.0 L324.7,271.6 L325.8,271.1 L326.9,270.7 L328.1,270.2 L329.2,269.8 L330.4,269.4 L331.5,269.0 L332.7,268.6 L333.8,268.3 L335.0,267.9 L336.1,267.6 L337.3,267.3 L338.5,267.1 L339.6,266.8 L340.8,266.5 L341.9,266.2 L343.1,265.9 L344.3,265.5 L345.4,265.2 L346.6,264.8 L347.7,264.4 L348.9,264.0 L350.1,263.6 L351.2,263.2 L352.4,262.8 L353.5,262.5 L354.7,262.1 L355.9,261.8 L357.0,261.5 L358.2,261.1 L359.3,260.8 L360.5,260.5 L361.7,260.2 L362.8,259.8 L364.0,259.5 L365.1,259.1 L366.3,258.8 L367.5,258.4 L368.6,258.0 L369.8,257.7 L370.9,257.3 L372.1,256.9 L373.3,256.5 L374.4,256.1 L375.6,255.7 L376.7,255.3 L377.9,254.9 L379.1,254.5 L380.2,254.1 L381.4,253.7 L382.5,253.3 L383.7,252.9 L384.9,252.5 L386.0,252.1 L387.2,251.7 L388.3,251.3 L389.5,250.9 L390.6,250.4 L391.8,250.0 L392.9,249.6 L394.1,249.1 L395.2,248.7 L396.3,248.2 L397.5,247.7 L398.6,247.3 L399.8,246.8 L400.9,246.3 L402.0,245.8 L403.2,245.3 L404.3,244.9 L405.5,244.4 L406.6,243.9 L407.7,243.5 L408.9,243.1 L410.0,242.7 L411.2,242.4 L412.3,242.0 L413.4,241.7 L414.6,241.3 L415.7,241.0 L416.9,240.7 L418.0,240.4 L419.1,240.2 L420.3,239.9 L421.4,239.6 L422.6,239.4 L423.7,239.2 L424.8,239.0 L426.0,238.8 L427.1,238.6 L428.3,238.5 L429.4,238.4 L430.5,238.3 L431.7,238.3 L432.8,238.2 L434.0,238.2 L435.1,238.2 L436.2,238.3 L437.4,238.3 L438.5,238.4 L439.7,238.5 L440.8,238.6 L441.9,238.8 L443.1,238.9 L444.2,239.1 L445.4,239.3 L446.5,239.5 L447.6,239.8 L448.8,240.0 L449.9,240.3 L451.1,240.6 L452.2,241.0 L453.3,241.4 L454.5,241.8 L455.6,242.2 L456.8,242.7 L457.9,243.2 L459.0,243.7 L460.2,244.3 L461.3,245.0 L462.5,245.7 L463.6,246.5 L464.7,247.2 L465.9,248.0 L467.0,248.7 L468.2,249.3 L469.3,250.0 L470.4,250.9 L471.6,252.1 L472.7,253.7 L473.9,255.6 L475.0,257.6 L476.1,259.6 L477.3,261.7 L478.4,263.7 L479.6,265.7 L480.7,267.7 L481.8,269.8 L483.0,271.8 L484.1,273.9 L485.3,275.9 L486.4,278.1 L487.5,280.4 L488.7,282.6 L489.8,284.9 L491.0,287.2 L492.1,289.5 L493.2,291.9 L494.4,294.4 L495.5,297.0 L496.7,299.7 L497.8,302.5 L498.9,305.4 L500.1,308.3 L501.2,311.3 L502.4,314.4 L503.5,317.4 L504.7,320.4 L505.8,323.5 L507.0,326.5 L508.1,329.6 L509.3,332.7 L510.5,336.0 L511.6,339.3 L512.8,342.7 L513.9,346.2 L515.1,349.7 L516.3,353.3 L517.4,356.8 L518.6,360.2 L519.7,363.6 L520.9,367.2 L522.1,371.1 L523.2,375.0 L524.4,379.0 L525.5,382.8 L526.7,386.4 L527.9,389.9 L529.0,393.3 L530.2,396.7 L531.3,400.2 L532.5,403.7 L533.7,407.3 L534.8,410.9 L536.0,414.6 L537.1,418.4 L538.3,422.6 L539.5,426.7 L540.6,430.1 L541.8,433.2 L542.9,436.1 L544.1,439.0 L545.3,441.8 L546.4,444.6 L547.6,447.5 L548.7,450.7 L549.9,454.4 L551.1,457.9 L552.2,461.3 L553.4,464.7 L554.5,467.9 L555.7,470.9 L556.9,473.7 L558.0,476.2 L559.2,478.5 L560.3,480.6 L561.5,482.5 L562.6,484.4 L563.8,486.2 L564.9,488.1 L566.1,489.9 L567.2,491.7 L568.3,493.5 L569.5,495.2 L570.6,496.9 L571.8,498.6 L572.9,500.1 L574.0,501.7 L575.2,503.1 L576.3,504.6 L577.5,505.9 L578.6,507.2 L579.7,508.3 L580.9,509.4 L582.0,510.4 L583.2,511.3 L584.3,512.0 L585.4,512.8 L586.6,513.4 L587.7,514.0 L588.9,514.6 L590.0,515.1 L591.1,515.5 L592.3,515.9 L593.4,516.3 L594.6,516.7 L595.7,517.0 L596.8,517.3 L598.0,517.7 L599.1,517.9 L600.3,518.2 L601.4,518.5 L602.5,518.7 L603.7,518.9 L604.8,519.0 L606.0,519.2 L607.1,519.3 L608.2,519.4 L609.4,519.4 L610.5,519.5 L611.7,519.5 L612.8,519.5 L613.9,519.4 L615.1,519.3 L616.2,519.2 L617.4,519.1 L618.5,519.0 L619.6,518.8 L620.8,518.7 L621.9,518.5 L623.1,518.3 L624.2,518.0 L625.3,517.7 L626.5,517.4 L627.6,517.1 L628.8,516.7 L629.9,516.3 L631.0,515.9 L632.2,515.5 L633.3,515.0 L634.5,514.6 L635.6,514.2 L636.7,513.8 L637.9,513.3 L639.0,512.9 L640.2,512.5 L641.3,512.1 L642.4,511.7 L643.6,511.4 L644.7,511.0 L645.9,510.6 L647.0,510.2 L648.1,509.9 L649.3,509.6 L650.4,509.3 L651.6,509.2 L652.7,509.1 L653.8,509.0 L655.0,509.1 L656.1,509.2 L657.3,509.3 L658.4,509.4 L659.5,509.6 L660.7,509.8 L661.8,510.0 L663.0,510.2 L664.1,510.4 L665.2,510.6 L666.4,510.8 L667.5,511.1 L668.7,511.3 L669.8,511.6 L670.9,511.9 L672.1,512.1 L673.2,512.4 L674.4,512.7 L675.5,512.9 L676.7,513.2 L677.8,513.3 L679.0,513.5 L680.1,513.5 L681.3,513.5 L682.5,513.3 L683.6,513.0 L684.8,512.6 L685.9,512.2 L687.1,511.6 L688.3,511.0 L689.4,510.4 L690.6,509.7 L691.7,509.1 L692.9,508.4 L694.1,507.7 L695.2,507.0 L696.4,506.3 L697.5,505.6 L698.7,504.9 L699.9,504.1 L701.0,503.3 L702.2,502.5 L703.3,501.6 L704.5,500.8 L705.7,499.8 L706.8,498.9 L708.0,497.9 L709.1,496.9 L710.3,495.8 L711.5,494.7 L712.6,493.5 L713.8,492.2 L714.9,490.9 L716.1,489.5 L717.3,488.0 L718.4,486.4 L719.6,484.9 L720.7,483.2 L721.9,481.6 L723.1,479.9 L724.2,478.2 L725.4,476.4 L726.5,474.6 L727.7,472.7 L728.9,470.8 L730.0,468.8 L731.2,466.7 L732.3,464.7 L733.5,462.5 L734.6,460.4 L735.8,458.2 L736.9,456.0 L738.1,453.7 L739.2,451.5 L740.3,449.2 L741.5,446.8 L742.6,444.5 L743.8,442.0 L744.9,439.5 L746.0,437.1 L747.2,434.6 L748.3,432.2 L749.5,429.8 L750.6,427.7 L751.7,425.9 L752.9,424.2 L754.0,422.4 L755.2,420.2 L756.3,417.0 L757.4,413.2 L758.6,410.5 L759.7,408.1 L760.9,405.8 L762.0,403.5 L763.1,401.2 L764.3,399.0 L765.4,396.8 L766.6,394.6 L767.7,392.5 L768.8,390.4 L770.0,388.3 L771.1,386.3 L772.3,384.2 L773.4,382.1 L774.5,380.1 L775.7,378.0 L776.8,376.0 L778.0,373.9 L779.1,371.9 L780.2,369.9 L781.4,367.9 L782.5,365.9 L783.7,363.9 L784.8,362.0 L785.9,360.0 L787.1,358.1 L788.2,356.2 L789.4,354.3 L790.5,352.5 L791.6,350.6 L792.8,348.9 L793.9,347.2 L795.1,345.5 L796.2,344.0 L797.3,342.5 L798.5,341.1 L799.6,339.7 L800.8,338.3 L801.9,336.9 L803.0,335.5 L804.2,334.1 L805.3,332.7 L806.5,331.3 L807.6,329.9 L808.7,328.4 L809.9,327.0 L811.0,325.6 L812.2,324.2 L813.3,322.8 L814.4,321.4 L815.6,319.9 L816.7,318.5 L817.9,317.2 L819.0,315.8 L820.1,314.4 L821.3,313.0 L822.4,311.7 L823.6,310.5 L824.7,309.4 L825.8,308.4 L827.0,307.4 L828.1,306.4 L829.3,305.4 L830.4,304.5 L831.5,303.6 L832.7,302.8 L833.8,302.1 L835.0,301.4 L836.1,300.8 L837.2,300.2 L838.4,299.7 L839.5,299.2 L840.7,298.7 L841.8,298.3 L842.9,297.9 L844.1,297.6 L845.2,297.3 L846.4,297.0 L847.5,296.7 L848.6,296.5 L849.8,296.3 L850.9,296.2 L852.1,296.2 L853.2,296.3 L854.3,296.4 L855.5,296.6 L856.6,296.9 L857.8,297.2 L858.9,297.7 L860.0,298.2 L861.2,298.7 L862.3,299.3 L863.5,299.9 L864.6,300.5 L865.7,301.1 L866.9,301.8 L868.0,302.5 L869.2,303.1 L870.3,303.8 L871.4,304.5 L872.6,305.3 L873.7,306.1 L874.9,307.0 L876.0,308.0 L877.1,309.0 L878.3,310.0 L879.4,311.0 L880.6,312.1 L881.7,313.2 L882.8,314.2 L884.0,315.3 L885.1,316.4 L886.3,317.5 L887.4,318.6 L888.5,319.7 L889.7,320.8 L890.8,321.9 L892.0,322.8 L893.1,323.6 L894.2,324.5 L895.4,325.5 L896.5,326.7 L897.7,327.9 L898.8,329.1 L899.9,330.3 L901.1,331.6 L902.2,332.8 L903.4,334.0 L904.5,335.2 L905.7,336.3 L906.8,337.5 L908.0,338.6 L909.1,339.8 L910.3,340.9 L911.5,342.0 L912.6,343.2 L913.8,344.3 L914.9,345.5 L916.1,346.6 L917.3,347.8 L918.4,349.0 L919.6,350.1 L920.7,351.3 L921.9,352.4 L923.1,353.6 L924.2,354.7 L925.4,355.9 L926.5,357.1 L927.7,358.2 L928.9,359.4 L930.0,360.6 L931.2,361.8 L932.3,362.9 L933.5,364.1 L934.7,365.4 L935.8,366.6 L937.0,367.8 L938.1,369.0 L939.3,370.2 L940.5,371.4 L941.6,372.6 L942.8,373.8 L943.9,374.9 L945.1,376.0 L946.3,377.1 L947.4,378.1 L948.6,379.1 L949.7,380.0 L950.9,380.9 L952.1,381.9 L953.2,382.8 L954.4,383.7 L955.5,384.6 L956.7,385.5 L957.9,386.4 L959.0,387.4 L960.2,388.3 L961.3,389.3 L962.5,390.2 L963.6,391.2 L964.8,392.1 L965.9,393.0 L967.1,394.0 L968.2,394.9 L969.3,395.8 L970.5,396.7 L971.6,397.6 L972.8,398.5 L973.9,399.3 L975.0,400.1 L976.2,400.8 L977.3,401.4 L978.5,402.0 L979.6,402.6 L980.7,403.1 L981.9,403.6 L983.0,404.1 L984.2,404.6 L985.3,405.0 L986.4,405.4 L987.6,405.8 L988.7,406.2 L989.9,406.6 L991.0,407.0 L992.1,407.4 L993.3,407.8 L994.4,408.2 L995.6,408.6 L996.7,409.0 L997.8,409.4 L999.0,409.8 L1000.1,410.2 L1001.3,410.6 L1002.4,411.0 L1003.5,411.4 L1004.7,411.8 L1005.8,412.2 L1007.0,412.6 L1008.1,413.1 L1009.2,413.5 L1010.4,414.0 L1011.5,414.4 L1012.7,414.8 L1013.8,415.3 L1014.9,415.7 L1016.1,416.1 L1017.2,416.5 L1018.4,416.9 L1019.5,417.3 L1020.6,417.6 L1021.8,417.9 L1022.9,418.2 L1024.1,418.4 L1025.2,418.7 L1026.3,418.9 L1027.5,419.1 L1028.6,419.3 L1029.8,419.5 L1030.9,419.7 L1032.0,419.8 L1033.2,420.0 L1034.3,420.2 L1035.5,420.3 L1036.6,420.5 L1037.7,420.7 L1038.9,420.9 L1040.0,421.0 L1041.2,421.2 L1042.3,421.4 L1043.4,421.6 L1044.6,421.7 L1045.7,421.9 L1046.9,422.1 L1048.0,422.3 L1049.1,422.4 L1050.3,422.6 L1051.4,422.8 L1052.6,422.9 L1053.7,423.1 L1054.8,423.3 L1056.0,423.4 L1057.1,423.6 L1058.3,423.8 L1059.4,423.9 L1060.5,424.1 L1061.7,424.3 L1062.8,424.4 L1064.0,424.6 L1065.1,424.8 L1066.2,424.9 L1067.4,425.1 L1068.5,425.3 L1069.7,425.4 L1070.8,425.6 L1071.9,425.7 L1073.1,425.8 L1074.2,426.0 L1075.4,426.1 L1076.5,426.2 L1077.6,426.3 L1078.8,426.4 L1079.9,426.5 L1081.1,426.7 L1082.2,426.7 L1083.4,426.8 L1084.5,426.9 L1085.6,427.0 L1086.8,427.1 L1087.9,427.2 L1089.1,427.3 L1090.2,427.4 L1091.3,427.4 L1092.5,427.5 L1093.6,427.6 L1094.8,427.7 L1095.9,427.7 L1097.1,427.8 L1098.2,427.9 L1099.3,428.0 L1100.5,428.0 L1101.6,428.1 L1102.8,428.2 L1103.9,428.2 L1105.0,428.3 L1106.2,428.4 L1107.3,428.4 L1108.5,428.5 L1109.6,428.6 L1110.8,428.6 L1111.9,428.7 L1113.0,428.7 L1114.2,428.8 L1115.3,428.8 L1116.5,428.9 L1117.6,428.9 L1118.8,429.0 L1119.9,429.0 L1121.0,429.0 L1122.2,429.0 L1123.3,429.0 L1124.5,429.1 L1125.6,429.1 L1126.7,429.1 L1127.9,429.1 L1129.0,429.1 L1130.2,429.0 L1131.3,429.0 L1132.5,429.0 L1133.6,429.0" stroke="#4c72b0" stroke-width="2.1" fill="none" stroke-dasharray="7.7 3.3" stroke-linejoin="round"/>
<path d="M102.8,429.0 L103.9,429.0 L105.1,429.0 L106.2,429.1 L107.3,429.1 L108.5,429.1 L109.6,429.1 L110.7,429.0 L111.9,429.0 L113.0,429.0 L114.1,429.0 L115.3,429.0 L116.4,429.0 L117.5,428.9 L118.7,428.9 L119.8,428.9 L120.9,428.8 L122.1,428.8 L123.2,428.8 L124.3,428.7 L125.5,428.6 L126.6,428.6 L127.7,428.5 L128.9,428.3 L130.0,428.2 L131.2,428.1 L132.3,427.9 L133.4,427.7 L134.6,427.4 L135.7,427.2 L136.8,427.0 L138.0,426.7 L139.1,426.5 L140.2,426.3 L141.4,426.1 L142.5,425.9 L143.6,425.8 L144.8,425.6 L145.9,425.4 L147.0,425.3 L148.2,425.1 L149.3,425.0 L150.4,424.9 L151.6,424.8 L152.7,424.8 L153.8,424.7 L155.0,424.6 L156.1,424.6 L157.2,424.6 L158.4,424.5 L159.5,424.5 L160.7,424.4 L161.8,424.4 L163.0,424.3 L164.1,424.3 L165.3,424.3 L166.5,424.2 L167.6,424.2 L168.8,424.2 L169.9,424.3 L171.1,424.3 L172.3,424.4 L173.4,424.5 L174.6,424.6 L175.7,424.8 L176.9,424.9 L178.1,425.0 L179.2,425.1 L180.4,425.2 L181.5,425.3 L182.7,425.4 L183.9,425.5 L185.0,425.5 L186.2,425.6 L187.3,425.7 L188.5,425.8 L189.7,425.8 L190.8,425.8 L192.0,425.8 L193.1,425.7 L194.3,425.5 L195.5,425.3 L196.6,425.0 L197.8,424.8 L198.9,424.5 L200.1,424.2 L201.3,423.8 L202.4,423.5 L203.6,423.1 L204.7,422.6 L205.9,422.1 L207.1,421.6 L208.2,421.0 L209.4,420.3 L210.5,419.7 L211.7,419.0 L212.9,418.2 L214.0,417.5 L215.2,416.7 L216.3,415.9 L217.5,415.0 L218.6,414.2 L219.8,413.3 L220.9,412.5 L222.1,411.6 L223.2,410.7 L224.3,409.8 L225.5,408.9 L226.6,408.0 L227.8,407.0 L228.9,406.0 L230.0,404.9 L231.2,403.8 L232.3,402.7 L233.5,401.6 L234.6,400.5 L235.7,399.4 L236.9,398.2 L238.0,397.1 L239.2,395.8 L240.3,394.5 L241.4,393.2 L242.6,391.8 L243.7,390.4 L244.9,388.9 L246.0,387.4 L247.1,385.9 L248.3,384.3 L249.4,382.8 L250.6,381.2 L251.7,379.5 L252.8,377.8 L254.0,376.1 L255.1,374.2 L256.3,372.3 L257.4,370.2 L258.5,368.1 L259.7,366.0 L260.8,363.9 L262.0,362.0 L263.1,360.1 L264.2,358.2 L265.4,356.4 L266.5,354.5 L267.7,352.7 L268.8,350.9 L269.9,349.1 L271.1,347.2 L272.2,345.4 L273.4,343.6 L274.5,341.8 L275.6,339.9 L276.8,338.1 L277.9,336.2 L279.1,334.2 L280.2,332.0 L281.3,329.6 L282.5,327.1 L283.6,324.6 L284.8,322.1 L285.9,319.7 L287.0,317.2 L288.2,314.7 L289.3,312.2 L290.5,309.8 L291.6,307.4 L292.7,305.0 L293.9,302.6 L295.0,300.4 L296.2,298.4 L297.3,296.6 L298.4,294.9 L299.6,293.2 L300.7,291.6 L301.9,289.9 L303.0,288.2 L304.1,286.5 L305.3,284.7 L306.4,283.0 L307.6,281.3 L308.7,279.6 L309.8,277.8 L311.0,276.1 L312.1,274.4 L313.3,272.7 L314.4,270.9 L315.5,269.2 L316.7,267.4 L317.8,265.6 L319.0,263.7 L320.1,262.0 L321.2,260.3 L322.4,258.8 L323.5,257.3 L324.7,255.9 L325.8,254.4 L326.9,252.9 L328.1,251.4 L329.2,249.9 L330.4,248.3 L331.5,246.8 L332.7,245.5 L333.8,244.3 L335.0,243.4 L336.1,242.7 L337.3,242.4 L338.5,242.1 L339.6,242.0 L340.8,242.0 L341.9,242.1 L343.1,242.3 L344.3,242.5 L345.4,242.7 L346.6,242.9 L347.7,243.1 L348.9,243.3 L350.1,243.5 L351.2,243.8 L352.4,243.9 L353.5,244.1 L354.7,244.3 L355.9,244.5 L357.0,244.7 L358.2,244.9 L359.3,245.1 L360.5,245.3 L361.7,245.5 L362.8,245.8 L364.0,246.1 L365.1,246.5 L366.3,246.9 L367.5,247.5 L368.6,248.1 L369.8,248.7 L370.9,249.4 L372.1,250.1 L373.3,250.7 L374.4,251.3 L375.6,251.9 L376.7,252.5 L377.9,253.0 L379.1,253.4 L380.2,253.8 L381.4,254.1 L382.5,254.3 L383.7,254.5 L384.9,254.6 L386.0,254.8 L387.2,254.9 L388.3,255.0 L389.5,255.1 L390.6,255.2 L391.8,255.3 L392.9,255.4 L394.1,255.4 L395.2,255.4 L396.3,255.4 L397.5,255.4 L398.6,255.3 L399.8,255.3 L400.9,255.2 L402.0,255.1 L403.2,254.9 L404.3,254.8 L405.5,254.7 L406.6,254.5 L407.7,254.2 L408.9,253.7 L410.0,253.1 L411.2,252.4 L412.3,251.6 L413.4,250.6 L414.6,249.5 L415.7,248.3 L416.9,247.1 L418.0,246.0 L419.1,244.8 L420.3,243.8 L421.4,243.0 L422.6,242.3 L423.7,241.8 L424.8,241.3 L426.0,240.9 L427.1,240.5 L428.3,240.2 L429.4,239.8 L430.5,239.4 L431.7,239.1 L432.8,238.8 L434.0,238.5 L435.1,238.4 L436.2,238.3 L437.4,238.4 L438.5,238.5 L439.7,238.8 L440.8,239.1 L441.9,239.5 L443.1,239.9 L444.2,240.2 L445.4,240.6 L446.5,241.1 L447.6,241.5 L448.8,241.9 L449.9,242.3 L451.1,242.7 L452.2,243.2 L453.3,243.6 L454.5,244.1 L455.6,244.5 L456.8,245.0 L457.9,245.5 L459.0,245.9 L460.2,246.4 L461.3,246.9 L462.5,247.5 L463.6,248.1 L464.7,248.8 L465.9,249.6 L467.0,250.4 L468.2,251.2 L469.3,252.1 L470.4,253.0 L471.6,254.2 L472.7,255.7 L473.9,257.4 L475.0,259.2 L476.1,261.2 L477.3,263.2 L478.4,265.2 L479.6,267.2 L480.7,269.3 L481.8,271.3 L483.0,273.4 L484.1,275.6 L485.3,277.7 L486.4,279.9 L487.5,282.1 L488.7,284.3 L489.8,286.6 L491.0,288.9 L492.1,291.2 L493.2,293.7 L494.4,296.3 L495.5,299.0 L496.7,301.9 L497.8,304.7 L498.9,307.6 L500.1,310.5 L501.2,313.5 L502.4,316.4 L503.5,319.3 L504.7,322.2 L505.8,325.1 L507.0,328.0 L508.1,330.9 L509.3,334.0 L510.5,337.1 L511.6,340.5 L512.8,343.9 L513.9,347.3 L515.1,350.8 L516.3,354.2 L517.4,357.7 L518.6,361.1 L519.7,364.5 L520.9,368.6 L522.1,373.6 L523.2,378.6 L524.4,382.9 L525.5,386.7 L526.7,390.5 L527.9,394.8 L529.0,399.4 L530.2,403.8 L531.3,407.4 L532.5,410.8 L533.7,414.5 L534.8,418.5 L536.0,422.6 L537.1,426.6 L538.3,430.6 L539.5,434.7 L540.6,438.8 L541.8,442.8 L542.9,446.7 L544.1,450.5 L545.3,454.4 L546.4,458.3 L547.6,462.3 L548.7,466.3 L549.9,470.2 L551.1,474.1 L552.2,477.7 L553.4,480.9 L554.5,483.7 L555.7,486.3 L556.9,488.6 L558.0,490.8 L559.2,492.9 L560.3,494.9 L561.5,496.9 L562.6,499.0 L563.8,501.0 L564.9,503.0 L566.1,505.0 L567.2,507.0 L568.3,509.0 L569.5,511.0 L570.6,512.9 L571.8,514.9 L572.9,516.8 L574.0,518.7 L575.2,520.6 L576.3,522.5 L577.5,524.4 L578.6,526.2 L579.7,528.0 L580.9,529.8 L582.0,531.5 L583.2,533.0 L584.3,534.3 L585.4,535.3 L586.6,536.1 L587.7,536.7 L588.9,537.3 L590.0,537.8 L591.1,538.3 L592.3,538.8 L593.4,539.3 L594.6,539.8 L595.7,540.2 L596.8,540.7 L598.0,541.1 L599.1,541.5 L600.3,542.0 L601.4,542.4 L602.5,542.8 L603.7,543.2 L604.8,543.7 L606.0,544.1 L607.1,544.5 L608.2,545.0 L609.4,545.4 L610.5,545.8 L611.7,546.2 L612.8,546.7 L613.9,547.1 L615.1,547.5 L616.2,547.9 L617.4,548.3 L618.5,548.8 L619.6,549.2 L620.8,549.5 L621.9,549.8 L623.1,550.0 L624.2,550.2 L625.3,550.4 L626.5,550.5 L627.6,550.6 L628.8,550.7 L629.9,550.7 L631.0,550.6 L632.2,550.5 L633.3,550.3 L634.5,550.0 L635.6,549.7 L636.7,549.3 L637.9,548.8 L639.0,548.3 L640.2,547.7 L641.3,547.0 L642.4,546.4 L643.6,545.7 L644.7,544.9 L645.9,544.1 L647.0,543.2 L648.1,542.3 L649.3,541.4 L650.4,540.4 L651.6,539.5 L652.7,538.6 L653.8,537.7 L655.0,536.9 L656.1,536.3 L657.3,535.8 L658.4,535.5 L659.5,535.3 L660.7,535.2 L661.8,535.2 L663.0,535.2 L664.1,535.2 L665.2,535.2 L666.4,535.2 L667.5,535.0 L668.7,534.8 L669.8,534.6 L670.9,534.4 L672.1,534.1 L673.2,533.8 L674.4,533.4 L675.5,532.9 L676.7,532.3 L677.8,531.7 L679.0,531.1 L680.1,530.4 L681.3,529.8 L682.5,529.1 L683.6,528.5 L684.8,527.9 L685.9,527.3 L687.1,526.7 L688.3,526.2 L689.4,525.6 L690.6,525.1 L691.7,524.5 L692.9,523.9 L694.1,523.3 L695.2,522.6 L696.4,522.0 L697.5,521.3 L698.7,520.6 L699.9,519.9 L701.0,519.2 L702.2,518.5 L703.3,517.8 L704.5,517.0 L705.7,516.2 L706.8,515.3 L708.0,514.4 L709.1,513.4 L710.3,512.4 L711.5,511.4 L712.6,510.3 L713.8,509.2 L714.9,508.2 L716.1,507.0 L717.3,505.9 L718.4,504.6 L719.6,503.3 L720.7,502.0 L721.9,500.6 L723.1,499.2 L724.2,497.7 L725.4,496.1 L726.5,494.3 L727.7,492.4 L728.9,490.4 L730.0,488.5 L731.2,486.6 L732.3,484.8 L733.5,483.2 L734.6,481.8 L735.8,480.4 L736.9,479.0 L738.1,477.7 L739.2,476.3 L740.3,475.0 L741.5,473.5 L742.6,472.1 L743.8,470.7 L744.9,469.3 L746.0,467.8 L747.2,466.3 L748.3,464.7 L749.5,462.9 L750.6,461.1 L751.7,459.2 L752.9,457.2 L754.0,455.2 L755.2,453.1 L756.3,451.1 L757.4,449.0 L758.6,447.0 L759.7,445.1 L760.9,443.2 L762.0,441.3 L763.1,439.5 L764.3,437.7 L765.4,435.8 L766.6,434.0 L767.7,432.0 L768.8,430.0 L770.0,427.9 L771.1,425.6 L772.3,423.1 L773.4,420.3 L774.5,417.5 L775.7,414.6 L776.8,411.6 L778.0,408.7 L779.1,405.7 L780.2,402.7 L781.4,399.7 L782.5,396.7 L783.7,393.7 L784.8,390.7 L785.9,387.8 L787.1,385.0 L788.2,382.1 L789.4,379.3 L790.5,376.6 L791.6,373.9 L792.8,371.3 L793.9,368.8 L795.1,366.3 L796.2,364.0 L797.3,361.7 L798.5,359.4 L799.6,357.3 L800.8,355.2 L801.9,353.1 L803.0,351.1 L804.2,349.1 L805.3,347.0 L806.5,345.0 L807.6,343.0 L808.7,341.0 L809.9,338.9 L811.0,336.8 L812.2,334.8 L813.3,332.8 L814.4,330.9 L815.6,329.4 L816.7,328.2 L817.9,327.1 L819.0,326.1 L820.1,325.3 L821.3,324.6 L822.4,324.1 L823.6,323.8 L824.7,323.5 L825.8,323.2 L827.0,323.1 L828.1,323.0 L829.3,323.0 L830.4,323.1 L831.5,323.1 L832.7,323.4 L833.8,323.7 L835.0,324.3 L836.1,325.0 L837.2,325.7 L838.4,326.4 L839.5,327.1 L840.7,327.8 L841.8,328.4 L842.9,329.1 L844.1,329.7 L845.2,330.3 L846.4,330.9 L847.5,331.3 L848.6,331.6 L849.8,331.6 L850.9,331.3 L852.1,330.7 L853.2,330.0 L854.3,329.3 L855.5,328.6 L856.6,327.9 L857.8,327.2 L858.9,326.5 L860.0,325.7 L861.2,325.0 L862.3,324.3 L863.5,323.6 L864.6,322.9 L865.7,322.1 L866.9,321.4 L868.0,320.6 L869.2,319.8 L870.3,319.0 L871.4,318.2 L872.6,317.4 L873.7,316.6 L874.9,315.8 L876.0,315.0 L877.1,314.2 L878.3,313.4 L879.4,312.7 L880.6,311.9 L881.7,311.1 L882.8,310.3 L884.0,309.5 L885.1,308.7 L886.3,307.9 L887.4,307.2 L888.5,306.6 L889.7,306.0 L890.8,305.4 L892.0,304.9 L893.1,304.4 L894.2,303.9 L895.4,303.3 L896.5,302.6 L897.7,301.8 L898.8,301.1 L899.9,300.6 L901.1,300.2 L902.2,299.9 L903.4,299.9 L904.5,300.0 L905.7,300.3 L906.8,300.8 L908.0,301.6 L909.1,302.6 L910.3,303.8 L911.5,305.0 L912.6,306.2 L913.8,307.5 L914.9,308.8 L916.1,310.2 L917.3,311.5 L918.4,312.8 L919.6,314.2 L920.7,315.5 L921.9,316.8 L923.1,318.2 L924.2,319.5 L925.4,320.8 L926.5,322.2 L927.7,323.6 L928.9,325.0 L930.0,326.5 L931.2,328.0 L932.3,329.7 L933.5,331.5 L934.7,333.6 L935.8,335.7 L937.0,338.0 L938.1,340.3 L939.3,342.7 L940.5,345.1 L941.6,347.4 L942.8,349.8 L943.9,352.2 L945.1,354.5 L946.3,356.9 L947.4,359.3 L948.6,361.7 L949.7,364.1 L950.9,366.4 L952.1,368.6 L953.2,370.7 L954.4,372.8 L955.5,374.8 L956.7,376.8 L957.9,378.7 L959.0,380.5 L960.2,382.2 L961.3,383.9 L962.5,385.5 L963.6,387.0 L964.8,388.5 L965.9,389.9 L967.1,391.3 L968.2,392.6 L969.3,394.0 L970.5,395.3 L971.6,396.5 L972.8,397.7 L973.9,398.9 L975.0,400.0 L976.2,401.0 L977.3,402.0 L978.5,402.8 L979.6,403.6 L980.7,404.2 L981.9,404.7 L983.0,405.1 L984.2,405.4 L985.3,405.6 L986.4,405.7 L987.6,405.7 L988.7,405.8 L989.9,405.8 L991.0,405.8 L992.1,405.9 L993.3,406.1 L994.4,406.3 L995.6,406.5 L996.7,406.8 L997.8,407.1 L999.0,407.4 L1000.1,407.9 L1001.3,408.4 L1002.4,409.0 L1003.5,409.6 L1004.7,410.4 L1005.8,411.1 L1007.0,411.9 L1008.1,412.6 L1009.2,413.3 L1010.4,413.9 L1011.5,414.5 L1012.7,415.1 L1013.8,415.6 L1014.9,416.2 L1016.1,416.7 L1017.2,417.1 L1018.4,417.5 L1019.5,417.8 L1020.6,418.0 L1021.8,418.2 L1022.9,418.4 L1024.1,418.7 L1025.2,418.9 L1026.3,419.1 L1027.5,419.3 L1028.6,419.5 L1029.8,419.7 L1030.9,419.9 L1032.0,420.2 L1033.2,420.4 L1034.3,420.6 L1035.5,420.9 L1036.6,421.1 L1037.7,421.3 L1038.9,421.6 L1040.0,421.8 L1041.2,422.0 L1042.3,422.3 L1043.4,422.6 L1044.6,422.8 L1045.7,423.1 L1046.9,423.4 L1048.0,423.7 L1049.1,424.0 L1050.3,424.3 L1051.4,424.6 L1052.6,424.9 L1053.7,425.1 L1054.8,425.3 L1056.0,425.6 L1057.1,425.8 L1058.3,426.0 L1059.4,426.1 L1060.5,426.3 L1061.7,426.5 L1062.8,426.6 L1064.0,426.8 L1065.1,426.9 L1066.2,427.1 L1067.4,427.2 L1068.5,427.3 L1069.7,427.4 L1070.8,427.6 L1071.9,427.7 L1073.1,427.8 L1074.2,427.9 L1075.4,427.9 L1076.5,428.0 L1077.6,428.1 L1078.8,428.2 L1079.9,428.3 L1081.1,428.3 L1082.2,428.4 L1083.4,428.5 L1084.5,428.5 L1085.6,428.6 L1086.8,428.7 L1087.9,428.7 L1089.1,428.8 L1090.2,428.8 L1091.3,428.8 L1092.5,428.9 L1093.6,428.9 L1094.8,428.9 L1095.9,429.0 L1097.1,429.0 L1098.2,429.0 L1099.3,429.0 L1100.5,429.1 L1101.6,429.1 L1102.8,429.1 L1103.9,429.1 L1105.0,429.1 L1106.2,429.2 L1107.3,429.2 L1108.5,429.2 L1109.6,429.2 L1110.8,429.2 L1111.9,429.2 L1113.0,429.2 L1114.2,429.2 L1115.3,429.2 L1116.5,429.2 L1117.6,429.2 L1118.8,429.2 L1119.9,429.2 L1121.0,429.2 L1122.2,429.2 L1123.3,429.2 L1124.5,429.2 L1125.6,429.1 L1126.7,429.1 L1127.9,429.1 L1129.0,429.1 L1130.2,429.1 L1131.3,429.0 L1132.5,429.0 L1133.6,429.0" stroke="#c44e52" stroke-width="2.1" fill="none" stroke-linejoin="round" stroke-linecap="square"/>
</g>
<path d="M86.75,643.50 h14.0" stroke="#262626" stroke-width="1" fill="none"/><text class="t" x="101.65" y="648.0">90</text>
<path d="M143.97,643.50 h14.0" stroke="#262626" stroke-width="1" fill="none"/><text class="t" x="158.87" y="648.0">80</text>
<path d="M201.19,643.50 h14.0" stroke="#262626" stroke-width="1" fill="none"/><text class="t" x="216.09" y="648.0">70</text>
<path d="M258.42,643.50 h14.0" stroke="#262626" stroke-width="1" fill="none"/><text class="t" x="273.32" y="648.0">60</text>
<path d="M315.64,643.50 h14.0" stroke="#262626" stroke-width="1" fill="none"/><text class="t" x="330.54" y="648.0">50</text>
<path d="M372.86,643.50 h14.0" stroke="#262626" stroke-width="1" fill="none"/><text class="t" x="387.76" y="648.0">40</text>
<path d="M430.08,643.50 h14.0" stroke="#262626" stroke-width="1" fill="none"/><text class="t" x="444.98" y="648.0">30</text>
<path d="M487.30,643.50 h14.0" stroke="#262626" stroke-width="1" fill="none"/><text class="t" x="502.20" y="648.0">20</text>
<path d="M544.53,643.50 h14.0" stroke="#262626" stroke-width="1" fill="none"/><text class="t" x="559.43" y="648.0">10</text>
<text class="t" x="618.70" y="648.0" text-anchor="middle">0</text>
<text class="t" x="675.92" y="648.0" text-anchor="middle">10</text>
<text class="t" x="733.14" y="648.0" text-anchor="middle">20</text>
<text class="t" x="790.36" y="648.0" text-anchor="middle">30</text>
<text class="t" x="847.59" y="648.0" text-anchor="middle">40</text>
<text class="t" x="904.81" y="648.0" text-anchor="middle">50</text>
<text class="t" x="962.03" y="648.0" text-anchor="middle">60</text>
<text class="t" x="1019.25" y="648.0" text-anchor="middle">70</text>
<text class="t" x="1076.47" y="648.0" text-anchor="middle">80</text>
<text class="t" x="1133.70" y="648.0" text-anchor="middle">90</text>
<text class="t" x="65.1" y="47.10" style="letter-spacing:0.5px">3.0</text>
<text class="t" x="65.1" y="111.73" style="letter-spacing:0.5px">2.5</text>
<text class="t" x="65.1" y="176.36" style="letter-spacing:0.5px">2.0</text>
<text class="t" x="65.1" y="240.99" style="letter-spacing:0.5px">1.5</text>
<text class="t" x="65.1" y="305.62" style="letter-spacing:0.5px">1.0</text>
<text class="t" x="65.1" y="370.25" style="letter-spacing:0.5px">0.5</text>
<text class="t" x="65.1" y="434.88" style="letter-spacing:0.5px">0.0</text>
<text class="t" x="65.1" y="499.51" style="letter-spacing:0.5px">0.5</text>
<path d="M50.80,495.50 h14.2" stroke="#262626" stroke-width="1" fill="none"/><text class="t" x="65.1" y="564.14" style="letter-spacing:0.5px">1.0</text>
<path d="M50.80,560.50 h14.2" stroke="#262626" stroke-width="1" fill="none"/><text class="t" x="65.1" y="628.77" style="letter-spacing:0.5px">1.5</text>
<path d="M50.80,624.50 h14.2" stroke="#262626" stroke-width="1" fill="none"/><text x="104.2" y="36.8" style="font-size:14px" textLength="30.7" lengthAdjust="spacing">1e24</text>
<text x="367.5" y="33.0" style="font-size:22px" textLength="50.4" lengthAdjust="spacing">Earth</text>
<text x="426.0" y="33.0" style="font-size:22px" textLength="72.3" lengthAdjust="spacing">Relative</text>
<text x="504.7" y="33.0" style="font-size:22px" textLength="48.9" lengthAdjust="spacing">AAM</text>
<text x="560.0" y="33.0" style="font-size:22px" textLength="20.8" lengthAdjust="spacing">by</text>
<text x="588.2" y="33.0" style="font-size:22px" textLength="74.5" lengthAdjust="spacing">Latitude</text>
<text x="669.1" y="33.0" style="font-size:22px" textLength="26.0" lengthAdjust="spacing">for</text>
<text x="701.5" y="33.0" style="font-size:22px" textLength="30.1" lengthAdjust="spacing">Oct</text>
<text x="738.0" y="33.0" style="font-size:22px" textLength="23.2" lengthAdjust="spacing">04</text>
<text x="769.3" y="33.0" style="font-size:22px" textLength="46.8" lengthAdjust="spacing">0000</text>
<text x="824.6" y="33.0" style="font-size:22px" textLength="43.1" lengthAdjust="spacing">UTC</text>
<text class="sans" x="618.5" y="674.7" text-anchor="middle" style="font-size:20.5px">&#981;</text>
<g transform="translate(35.7,414.3) rotate(-90)"><text transform="translate(-1.0,0) scale(1.0,1)" x="0" y="0" style="font-family:'Liberation Sans',sans-serif;font-style:italic;font-size:18.8px">M</text><text transform="translate(14.9,4.1) scale(1.0,1)" x="0" y="0" style="font-family:'Liberation Sans',sans-serif;font-style:italic;font-size:14.3px">R</text><text transform="translate(34.0,-1.2) scale(1.0,1)" x="0" y="0" style="font-family:'Liberation Sans',sans-serif;font-style:normal;font-size:18.8px">(</text><text transform="translate(44.3,0) scale(1.1,1)" x="0" y="0" style="font-family:'Liberation Sans',sans-serif;font-style:italic;font-size:18.8px">k</text><text transform="translate(53.6,0) scale(1.16,1)" x="0" y="0" style="font-family:'Liberation Sans',sans-serif;font-style:italic;font-size:18.8px">g</text><text transform="translate(81.9,0) scale(1.06,1)" x="0" y="0" style="font-family:'Liberation Sans',sans-serif;font-style:italic;font-size:18.8px">m</text><text transform="translate(100.0,-6.4) scale(1.0,1)" x="0" y="0" style="font-family:'Liberation Sans',sans-serif;font-style:normal;font-size:14.3px">2</text><text transform="translate(124.6,0) scale(1.08,1)" x="0" y="0" style="font-family:'Liberation Sans',sans-serif;font-style:italic;font-size:18.8px">s</text><text transform="translate(136.5,-6.4) scale(0.85,1)" x="0" y="0" style="font-family:'Liberation Sans',sans-serif;font-style:normal;font-size:14.3px">&#8722;</text><text transform="translate(146.2,-6.4) scale(1.0,1)" x="0" y="0" style="font-family:'Liberation Sans',sans-serif;font-style:normal;font-size:14.3px">1</text><text transform="translate(156.8,-1.2) scale(1.0,1)" x="0" y="0" style="font-family:'Liberation Sans',sans-serif;font-style:normal;font-size:18.8px">)</text><circle cx="74.6" cy="-6.4" r="1.35" fill="#262626"/><circle cx="117.2" cy="-6.4" r="1.35" fill="#262626"/></g>
<rect x="924.4" y="50.2" width="201" height="82" rx="3.2" ry="3.2" fill="#eaeaf2" fill-opacity="0.8" stroke="#cccccc" stroke-width="1.2"/>
<path d="M931,63 H961.1" stroke="#4c72b0" stroke-width="2.1" stroke-dasharray="7.9 3.1" fill="none"/>
<rect x="931" y="83" width="34" height="12.6" fill="#4c72b0" fill-opacity="0.15" stroke="#4c72b0" stroke-opacity="0.1" stroke-width="1"/>
<path d="M930,115 H965" stroke="#c44e52" stroke-width="2.1" fill="none"/>
<text class="t" x="977.4" y="67.9" textLength="125.6" lengthAdjust="spacing">1970-2010 Mean</text>
<path d="M979.0,90.6 H992.4 M985.7,83.0 V98.0" stroke="#262626" stroke-width="1" fill="none"/>
<path d="M993.9,98.4 L1002.2,82.4" stroke="#262626" stroke-width="1" fill="none"/>
<path d="M1002.7,91.0 H1006.8" stroke="#262626" stroke-width="1.5" fill="none"/>
<text class="t" y="94.7"><tspan x="1011.2">1</tspan><tspan x="1025.8" class="sans" style="font-size:16.5px">&#963;</tspan><tspan x="1041.3" textLength="25" lengthAdjust="spacing">and</tspan><tspan x="1072.8" textLength="44.6" lengthAdjust="spacing">Range</tspan></text>
<text class="t" x="978.9" y="120.9" textLength="41.7" lengthAdjust="spacing">Today</text>
<rect x="1054.2" y="662.8" width="166.6" height="24" rx="3.5" ry="3.5" fill="#1b1b1b"/>
<text x="1059.3" y="679.2" style="font-size:14.6px;fill:#ececec" textLength="76.4" lengthAdjust="spacing">atlas.niu.edu</text>
<text x="1143.3" y="679.2" style="font-size:14.6px;fill:#ececec" textLength="72" lengthAdjust="spacing">@gensiniwx</text>
</svg></body></html>
